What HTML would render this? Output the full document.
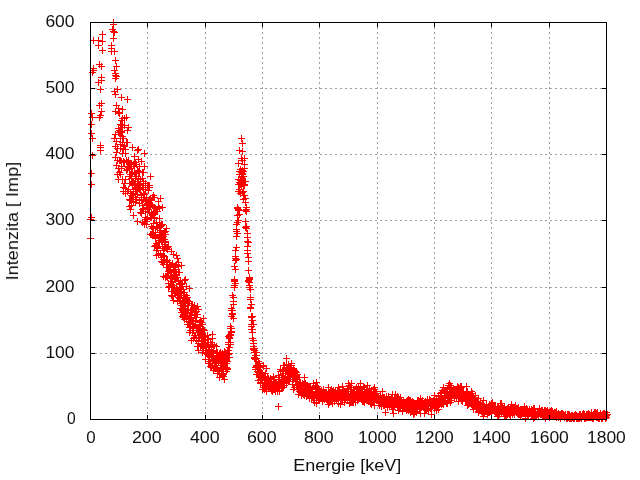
<!DOCTYPE html>
<html>
<head>
<meta charset="utf-8">
<title>Spektrum</title>
<style>
html,body{margin:0;padding:0;background:#fff;}
body{width:640px;height:480px;overflow:hidden;}
svg{display:block;}
text{font-family:"Liberation Sans",sans-serif;font-size:16.3px;fill:#111;}
</style>
</head>
<body>
<svg width="640" height="480" viewBox="0 0 640 480">
<rect x="0" y="0" width="640" height="480" fill="#fff"/>
<g stroke="#a0a0a0" stroke-width="1" stroke-dasharray="2 3" shape-rendering="crispEdges" fill="none">
<line x1="147.5" y1="419" x2="147.5" y2="22" />
<line x1="205.5" y1="419" x2="205.5" y2="22" />
<line x1="262.5" y1="419" x2="262.5" y2="22" />
<line x1="319.5" y1="419" x2="319.5" y2="22" />
<line x1="377.5" y1="419" x2="377.5" y2="22" />
<line x1="434.5" y1="419" x2="434.5" y2="22" />
<line x1="491.5" y1="419" x2="491.5" y2="22" />
<line x1="549.5" y1="419" x2="549.5" y2="22" />
<line x1="90" y1="353.5" x2="607" y2="353.5" />
<line x1="90" y1="287.5" x2="607" y2="287.5" />
<line x1="90" y1="220.5" x2="607" y2="220.5" />
<line x1="90" y1="154.5" x2="607" y2="154.5" />
<line x1="90" y1="88.5" x2="607" y2="88.5" />
</g>
<g style="opacity:0.999">
<text x="91.0" y="443" text-anchor="middle" textLength="9.4" lengthAdjust="spacingAndGlyphs">0</text>
<text x="146.8" y="443" text-anchor="middle" textLength="29.7" lengthAdjust="spacingAndGlyphs">200</text>
<text x="204.8" y="443" text-anchor="middle" textLength="29.7" lengthAdjust="spacingAndGlyphs">400</text>
<text x="261.8" y="443" text-anchor="middle" textLength="29.7" lengthAdjust="spacingAndGlyphs">600</text>
<text x="318.8" y="443" text-anchor="middle" textLength="29.7" lengthAdjust="spacingAndGlyphs">800</text>
<text x="377.4" y="443" text-anchor="middle" textLength="38.8" lengthAdjust="spacingAndGlyphs">1000</text>
<text x="434.4" y="443" text-anchor="middle" textLength="38.8" lengthAdjust="spacingAndGlyphs">1200</text>
<text x="491.4" y="443" text-anchor="middle" textLength="38.8" lengthAdjust="spacingAndGlyphs">1400</text>
<text x="549.4" y="443" text-anchor="middle" textLength="38.8" lengthAdjust="spacingAndGlyphs">1600</text>
<text x="606.4" y="443" text-anchor="middle" textLength="38.8" lengthAdjust="spacingAndGlyphs">1800</text>
<text x="75.6" y="423.9" text-anchor="end" textLength="8.7" lengthAdjust="spacingAndGlyphs">0</text>
<text x="74.5" y="357.9" text-anchor="end" textLength="29.1" lengthAdjust="spacingAndGlyphs">100</text>
<text x="74.5" y="291.9" text-anchor="end" textLength="29.1" lengthAdjust="spacingAndGlyphs">200</text>
<text x="74.5" y="224.9" text-anchor="end" textLength="29.1" lengthAdjust="spacingAndGlyphs">300</text>
<text x="74.5" y="158.9" text-anchor="end" textLength="29.1" lengthAdjust="spacingAndGlyphs">400</text>
<text x="74.5" y="92.9" text-anchor="end" textLength="29.1" lengthAdjust="spacingAndGlyphs">500</text>
<text x="74.5" y="26.9" text-anchor="end" textLength="29.1" lengthAdjust="spacingAndGlyphs">600</text>
<text x="347.2" y="471" text-anchor="middle" textLength="108" lengthAdjust="spacingAndGlyphs">Energie [keV]</text>
<text transform="translate(18,221.1) rotate(-90)" x="0" y="0" text-anchor="middle" textLength="118.5" lengthAdjust="spacingAndGlyphs">Intenzita [ Imp]</text>
</g>
<path d="M110 22.5h7m-3.5-3.5v7M110 24.5h7m-3.5-3.5v7M109 29.5h7m-3.5-3.5v7M111 32.5h7m-3.5-3.5v7M110 31.5h7m-3.5-3.5v7M110 38.5h7m-3.5-3.5v7M108 45.5h7m-3.5-3.5v7M108 48.5h7m-3.5-3.5v7M111 51.5h7m-3.5-3.5v7M108 51.5h7m-3.5-3.5v7M112 60.5h7m-3.5-3.5v7M113 66.5h7m-3.5-3.5v7M111 70.5h7m-3.5-3.5v7M112 73.5h7m-3.5-3.5v7M112 75.5h7m-3.5-3.5v7M113 76.5h7m-3.5-3.5v7M112 78.5h7m-3.5-3.5v7M114 89.5h7m-3.5-3.5v7M111 91.5h7m-3.5-3.5v7M112 94.5h7m-3.5-3.5v7M113 105.5h7m-3.5-3.5v7M115 108.5h7m-3.5-3.5v7M112 111.5h7m-3.5-3.5v7M115 112.5h7m-3.5-3.5v7M115 128.5h7m-3.5-3.5v7M115 132.5h7m-3.5-3.5v7M99 34.5h7m-3.5-3.5v7M90 40.5h7m-3.5-3.5v7M95 40.5h7m-3.5-3.5v7M99 41.5h7m-3.5-3.5v7M95 45.5h7m-3.5-3.5v7M99 50.5h7m-3.5-3.5v7M96 64.5h7m-3.5-3.5v7M98 66.5h7m-3.5-3.5v7M90 68.5h7m-3.5-3.5v7M90 70.5h7m-3.5-3.5v7M89 72.5h7m-3.5-3.5v7M98 77.5h7m-3.5-3.5v7M98 80.5h7m-3.5-3.5v7M95 82.5h7m-3.5-3.5v7M97 89.5h7m-3.5-3.5v7M98 103.5h7m-3.5-3.5v7M96 105.5h7m-3.5-3.5v7M98 111.5h7m-3.5-3.5v7M97 115.5h7m-3.5-3.5v7M96 117.5h7m-3.5-3.5v7M97 145.5h7m-3.5-3.5v7M97 147.5h7m-3.5-3.5v7M97 150.5h7m-3.5-3.5v7M112 134.5h7m-3.5-3.5v7M111 138.5h7m-3.5-3.5v7M113 141.5h7m-3.5-3.5v7M112 146.5h7m-3.5-3.5v7M114 148.5h7m-3.5-3.5v7M113 152.5h7m-3.5-3.5v7M112 157.5h7m-3.5-3.5v7M114 160.5h7m-3.5-3.5v7M113 165.5h7m-3.5-3.5v7M115 168.5h7m-3.5-3.5v7M114 174.5h7m-3.5-3.5v7M115 179.5h7m-3.5-3.5v7M117 124.5h7m-3.5-3.5v7M118 120.5h7m-3.5-3.5v7M119 118.5h7m-3.5-3.5v7M116 130.5h7m-3.5-3.5v7M116 132.5h7m-3.5-3.5v7M118 132.5h7m-3.5-3.5v7M124 99.5h7m-3.5-3.5v7M119 109.5h7m-3.5-3.5v7M123 117.5h7m-3.5-3.5v7M125 127.5h7m-3.5-3.5v7M124 130.5h7m-3.5-3.5v7M275 406.5h7m-3.5-3.5v7M238 138.5h7m-3.5-3.5v7M239 143.5h7m-3.5-3.5v7M236 150.5h7m-3.5-3.5v7M239 151.5h7m-3.5-3.5v7M238 158.5h7m-3.5-3.5v7M241 158.5h7m-3.5-3.5v7M235 163.5h7m-3.5-3.5v7M241 164.5h7m-3.5-3.5v7M239 160.5h7m-3.5-3.5v7M237 169.5h7m-3.5-3.5v7M88 113.5h7m-3.5-3.5v7M89 117.5h7m-3.5-3.5v7M88 124.5h7m-3.5-3.5v7M88 133.5h7m-3.5-3.5v7M89 138.5h7m-3.5-3.5v7M89 155.5h7m-3.5-3.5v7M88 173.5h7m-3.5-3.5v7M88 184.5h7m-3.5-3.5v7M88 217.5h7m-3.5-3.5v7M87 219.5h7m-3.5-3.5v7M87 238.5h7m-3.5-3.5v7M116 172.5h7m-3.5-3.5v7M116 113.5h7m-3.5-3.5v7M116 160.5h7m-3.5-3.5v7M117 148.5h7m-3.5-3.5v7M117 144.5h7m-3.5-3.5v7M117 160.5h7m-3.5-3.5v7M117 174.5h7m-3.5-3.5v7M117 131.5h7m-3.5-3.5v7M117 138.5h7m-3.5-3.5v7M118 168.5h7m-3.5-3.5v7M118 97.5h7m-3.5-3.5v7M118 127.5h7m-3.5-3.5v7M118 166.5h7m-3.5-3.5v7M118 131.5h7m-3.5-3.5v7M118 161.5h7m-3.5-3.5v7M119 153.5h7m-3.5-3.5v7M119 136.5h7m-3.5-3.5v7M119 179.5h7m-3.5-3.5v7M119 142.5h7m-3.5-3.5v7M119 125.5h7m-3.5-3.5v7M119 127.5h7m-3.5-3.5v7M120 162.5h7m-3.5-3.5v7M120 138.5h7m-3.5-3.5v7M120 191.5h7m-3.5-3.5v7M120 161.5h7m-3.5-3.5v7M120 149.5h7m-3.5-3.5v7M120 187.5h7m-3.5-3.5v7M121 162.5h7m-3.5-3.5v7M121 125.5h7m-3.5-3.5v7M121 118.5h7m-3.5-3.5v7M121 146.5h7m-3.5-3.5v7M121 145.5h7m-3.5-3.5v7M121 183.5h7m-3.5-3.5v7M122 188.5h7m-3.5-3.5v7M122 193.5h7m-3.5-3.5v7M122 153.5h7m-3.5-3.5v7M122 149.5h7m-3.5-3.5v7M122 179.5h7m-3.5-3.5v7M122 191.5h7m-3.5-3.5v7M123 161.5h7m-3.5-3.5v7M123 160.5h7m-3.5-3.5v7M123 170.5h7m-3.5-3.5v7M123 142.5h7m-3.5-3.5v7M123 170.5h7m-3.5-3.5v7M123 170.5h7m-3.5-3.5v7M124 191.5h7m-3.5-3.5v7M124 166.5h7m-3.5-3.5v7M124 142.5h7m-3.5-3.5v7M124 169.5h7m-3.5-3.5v7M124 169.5h7m-3.5-3.5v7M124 162.5h7m-3.5-3.5v7M125 166.5h7m-3.5-3.5v7M125 161.5h7m-3.5-3.5v7M125 161.5h7m-3.5-3.5v7M125 160.5h7m-3.5-3.5v7M125 189.5h7m-3.5-3.5v7M125 167.5h7m-3.5-3.5v7M126 206.5h7m-3.5-3.5v7M126 169.5h7m-3.5-3.5v7M126 199.5h7m-3.5-3.5v7M126 176.5h7m-3.5-3.5v7M126 166.5h7m-3.5-3.5v7M126 183.5h7m-3.5-3.5v7M127 174.5h7m-3.5-3.5v7M127 209.5h7m-3.5-3.5v7M127 193.5h7m-3.5-3.5v7M127 163.5h7m-3.5-3.5v7M127 200.5h7m-3.5-3.5v7M127 164.5h7m-3.5-3.5v7M128 205.5h7m-3.5-3.5v7M128 195.5h7m-3.5-3.5v7M128 199.5h7m-3.5-3.5v7M128 178.5h7m-3.5-3.5v7M128 168.5h7m-3.5-3.5v7M128 199.5h7m-3.5-3.5v7M129 182.5h7m-3.5-3.5v7M129 147.5h7m-3.5-3.5v7M129 185.5h7m-3.5-3.5v7M129 195.5h7m-3.5-3.5v7M129 172.5h7m-3.5-3.5v7M129 184.5h7m-3.5-3.5v7M130 193.5h7m-3.5-3.5v7M130 215.5h7m-3.5-3.5v7M130 164.5h7m-3.5-3.5v7M130 191.5h7m-3.5-3.5v7M130 181.5h7m-3.5-3.5v7M130 201.5h7m-3.5-3.5v7M131 156.5h7m-3.5-3.5v7M131 166.5h7m-3.5-3.5v7M131 162.5h7m-3.5-3.5v7M131 183.5h7m-3.5-3.5v7M131 173.5h7m-3.5-3.5v7M131 164.5h7m-3.5-3.5v7M132 162.5h7m-3.5-3.5v7M132 176.5h7m-3.5-3.5v7M132 183.5h7m-3.5-3.5v7M132 189.5h7m-3.5-3.5v7M132 197.5h7m-3.5-3.5v7M132 202.5h7m-3.5-3.5v7M133 176.5h7m-3.5-3.5v7M133 188.5h7m-3.5-3.5v7M133 199.5h7m-3.5-3.5v7M133 187.5h7m-3.5-3.5v7M133 164.5h7m-3.5-3.5v7M133 189.5h7m-3.5-3.5v7M134 221.5h7m-3.5-3.5v7M134 187.5h7m-3.5-3.5v7M134 170.5h7m-3.5-3.5v7M134 181.5h7m-3.5-3.5v7M134 194.5h7m-3.5-3.5v7M134 150.5h7m-3.5-3.5v7M135 149.5h7m-3.5-3.5v7M135 188.5h7m-3.5-3.5v7M135 171.5h7m-3.5-3.5v7M135 179.5h7m-3.5-3.5v7M135 172.5h7m-3.5-3.5v7M135 159.5h7m-3.5-3.5v7M136 172.5h7m-3.5-3.5v7M136 185.5h7m-3.5-3.5v7M136 200.5h7m-3.5-3.5v7M136 203.5h7m-3.5-3.5v7M136 189.5h7m-3.5-3.5v7M136 166.5h7m-3.5-3.5v7M137 183.5h7m-3.5-3.5v7M137 188.5h7m-3.5-3.5v7M137 184.5h7m-3.5-3.5v7M137 189.5h7m-3.5-3.5v7M137 179.5h7m-3.5-3.5v7M137 212.5h7m-3.5-3.5v7M138 195.5h7m-3.5-3.5v7M138 199.5h7m-3.5-3.5v7M138 213.5h7m-3.5-3.5v7M138 161.5h7m-3.5-3.5v7M138 195.5h7m-3.5-3.5v7M138 197.5h7m-3.5-3.5v7M139 222.5h7m-3.5-3.5v7M139 187.5h7m-3.5-3.5v7M139 205.5h7m-3.5-3.5v7M139 172.5h7m-3.5-3.5v7M139 178.5h7m-3.5-3.5v7M139 209.5h7m-3.5-3.5v7M140 187.5h7m-3.5-3.5v7M140 199.5h7m-3.5-3.5v7M140 208.5h7m-3.5-3.5v7M140 172.5h7m-3.5-3.5v7M140 181.5h7m-3.5-3.5v7M140 193.5h7m-3.5-3.5v7M141 197.5h7m-3.5-3.5v7M141 224.5h7m-3.5-3.5v7M141 223.5h7m-3.5-3.5v7M141 194.5h7m-3.5-3.5v7M141 166.5h7m-3.5-3.5v7M141 153.5h7m-3.5-3.5v7M142 187.5h7m-3.5-3.5v7M142 189.5h7m-3.5-3.5v7M142 183.5h7m-3.5-3.5v7M142 217.5h7m-3.5-3.5v7M142 211.5h7m-3.5-3.5v7M142 201.5h7m-3.5-3.5v7M143 221.5h7m-3.5-3.5v7M143 224.5h7m-3.5-3.5v7M143 219.5h7m-3.5-3.5v7M143 204.5h7m-3.5-3.5v7M143 197.5h7m-3.5-3.5v7M143 204.5h7m-3.5-3.5v7M144 203.5h7m-3.5-3.5v7M144 217.5h7m-3.5-3.5v7M144 218.5h7m-3.5-3.5v7M144 185.5h7m-3.5-3.5v7M144 207.5h7m-3.5-3.5v7M144 208.5h7m-3.5-3.5v7M145 190.5h7m-3.5-3.5v7M145 185.5h7m-3.5-3.5v7M145 185.5h7m-3.5-3.5v7M145 201.5h7m-3.5-3.5v7M145 209.5h7m-3.5-3.5v7M145 204.5h7m-3.5-3.5v7M146 206.5h7m-3.5-3.5v7M146 185.5h7m-3.5-3.5v7M146 205.5h7m-3.5-3.5v7M146 199.5h7m-3.5-3.5v7M146 212.5h7m-3.5-3.5v7M146 187.5h7m-3.5-3.5v7M147 217.5h7m-3.5-3.5v7M147 206.5h7m-3.5-3.5v7M147 199.5h7m-3.5-3.5v7M147 234.5h7m-3.5-3.5v7M147 176.5h7m-3.5-3.5v7M147 217.5h7m-3.5-3.5v7M148 217.5h7m-3.5-3.5v7M148 234.5h7m-3.5-3.5v7M148 200.5h7m-3.5-3.5v7M148 212.5h7m-3.5-3.5v7M148 226.5h7m-3.5-3.5v7M148 213.5h7m-3.5-3.5v7M149 205.5h7m-3.5-3.5v7M149 197.5h7m-3.5-3.5v7M149 215.5h7m-3.5-3.5v7M149 235.5h7m-3.5-3.5v7M149 228.5h7m-3.5-3.5v7M149 233.5h7m-3.5-3.5v7M150 232.5h7m-3.5-3.5v7M150 207.5h7m-3.5-3.5v7M150 213.5h7m-3.5-3.5v7M150 223.5h7m-3.5-3.5v7M150 227.5h7m-3.5-3.5v7M150 195.5h7m-3.5-3.5v7M151 218.5h7m-3.5-3.5v7M151 207.5h7m-3.5-3.5v7M151 217.5h7m-3.5-3.5v7M151 235.5h7m-3.5-3.5v7M151 197.5h7m-3.5-3.5v7M151 246.5h7m-3.5-3.5v7M152 245.5h7m-3.5-3.5v7M152 232.5h7m-3.5-3.5v7M152 238.5h7m-3.5-3.5v7M152 236.5h7m-3.5-3.5v7M152 237.5h7m-3.5-3.5v7M152 211.5h7m-3.5-3.5v7M153 226.5h7m-3.5-3.5v7M153 222.5h7m-3.5-3.5v7M153 255.5h7m-3.5-3.5v7M153 243.5h7m-3.5-3.5v7M153 211.5h7m-3.5-3.5v7M153 250.5h7m-3.5-3.5v7M154 211.5h7m-3.5-3.5v7M154 248.5h7m-3.5-3.5v7M154 226.5h7m-3.5-3.5v7M154 246.5h7m-3.5-3.5v7M154 228.5h7m-3.5-3.5v7M154 247.5h7m-3.5-3.5v7M155 237.5h7m-3.5-3.5v7M155 206.5h7m-3.5-3.5v7M155 240.5h7m-3.5-3.5v7M155 201.5h7m-3.5-3.5v7M155 242.5h7m-3.5-3.5v7M155 254.5h7m-3.5-3.5v7M156 234.5h7m-3.5-3.5v7M156 242.5h7m-3.5-3.5v7M156 208.5h7m-3.5-3.5v7M156 222.5h7m-3.5-3.5v7M156 218.5h7m-3.5-3.5v7M156 227.5h7m-3.5-3.5v7M157 198.5h7m-3.5-3.5v7M157 226.5h7m-3.5-3.5v7M157 230.5h7m-3.5-3.5v7M157 253.5h7m-3.5-3.5v7M157 254.5h7m-3.5-3.5v7M157 238.5h7m-3.5-3.5v7M158 225.5h7m-3.5-3.5v7M158 224.5h7m-3.5-3.5v7M158 257.5h7m-3.5-3.5v7M158 234.5h7m-3.5-3.5v7M158 240.5h7m-3.5-3.5v7M158 261.5h7m-3.5-3.5v7M159 236.5h7m-3.5-3.5v7M159 224.5h7m-3.5-3.5v7M159 240.5h7m-3.5-3.5v7M159 207.5h7m-3.5-3.5v7M159 262.5h7m-3.5-3.5v7M159 246.5h7m-3.5-3.5v7M160 276.5h7m-3.5-3.5v7M160 259.5h7m-3.5-3.5v7M160 236.5h7m-3.5-3.5v7M160 264.5h7m-3.5-3.5v7M160 250.5h7m-3.5-3.5v7M160 255.5h7m-3.5-3.5v7M161 256.5h7m-3.5-3.5v7M161 248.5h7m-3.5-3.5v7M161 244.5h7m-3.5-3.5v7M161 232.5h7m-3.5-3.5v7M161 239.5h7m-3.5-3.5v7M161 261.5h7m-3.5-3.5v7M162 231.5h7m-3.5-3.5v7M162 234.5h7m-3.5-3.5v7M162 277.5h7m-3.5-3.5v7M162 244.5h7m-3.5-3.5v7M162 242.5h7m-3.5-3.5v7M162 241.5h7m-3.5-3.5v7M163 248.5h7m-3.5-3.5v7M163 276.5h7m-3.5-3.5v7M163 261.5h7m-3.5-3.5v7M163 267.5h7m-3.5-3.5v7M163 260.5h7m-3.5-3.5v7M163 228.5h7m-3.5-3.5v7M164 249.5h7m-3.5-3.5v7M164 247.5h7m-3.5-3.5v7M164 267.5h7m-3.5-3.5v7M164 275.5h7m-3.5-3.5v7M164 277.5h7m-3.5-3.5v7M164 260.5h7m-3.5-3.5v7M165 273.5h7m-3.5-3.5v7M165 271.5h7m-3.5-3.5v7M165 246.5h7m-3.5-3.5v7M165 287.5h7m-3.5-3.5v7M165 283.5h7m-3.5-3.5v7M165 271.5h7m-3.5-3.5v7M166 266.5h7m-3.5-3.5v7M166 267.5h7m-3.5-3.5v7M166 286.5h7m-3.5-3.5v7M166 264.5h7m-3.5-3.5v7M166 269.5h7m-3.5-3.5v7M166 262.5h7m-3.5-3.5v7M167 283.5h7m-3.5-3.5v7M167 265.5h7m-3.5-3.5v7M167 265.5h7m-3.5-3.5v7M167 278.5h7m-3.5-3.5v7M167 272.5h7m-3.5-3.5v7M167 277.5h7m-3.5-3.5v7M168 251.5h7m-3.5-3.5v7M168 285.5h7m-3.5-3.5v7M168 291.5h7m-3.5-3.5v7M168 295.5h7m-3.5-3.5v7M168 277.5h7m-3.5-3.5v7M168 281.5h7m-3.5-3.5v7M169 278.5h7m-3.5-3.5v7M169 263.5h7m-3.5-3.5v7M169 296.5h7m-3.5-3.5v7M169 285.5h7m-3.5-3.5v7M169 277.5h7m-3.5-3.5v7M169 291.5h7m-3.5-3.5v7M170 269.5h7m-3.5-3.5v7M170 271.5h7m-3.5-3.5v7M170 285.5h7m-3.5-3.5v7M170 300.5h7m-3.5-3.5v7M170 254.5h7m-3.5-3.5v7M170 270.5h7m-3.5-3.5v7M171 271.5h7m-3.5-3.5v7M171 276.5h7m-3.5-3.5v7M171 278.5h7m-3.5-3.5v7M171 267.5h7m-3.5-3.5v7M171 279.5h7m-3.5-3.5v7M171 287.5h7m-3.5-3.5v7M172 269.5h7m-3.5-3.5v7M172 279.5h7m-3.5-3.5v7M172 290.5h7m-3.5-3.5v7M172 293.5h7m-3.5-3.5v7M172 265.5h7m-3.5-3.5v7M172 272.5h7m-3.5-3.5v7M173 255.5h7m-3.5-3.5v7M173 289.5h7m-3.5-3.5v7M173 292.5h7m-3.5-3.5v7M173 277.5h7m-3.5-3.5v7M173 264.5h7m-3.5-3.5v7M173 275.5h7m-3.5-3.5v7M174 277.5h7m-3.5-3.5v7M174 258.5h7m-3.5-3.5v7M174 294.5h7m-3.5-3.5v7M174 301.5h7m-3.5-3.5v7M174 295.5h7m-3.5-3.5v7M174 289.5h7m-3.5-3.5v7M175 280.5h7m-3.5-3.5v7M175 272.5h7m-3.5-3.5v7M175 281.5h7m-3.5-3.5v7M175 266.5h7m-3.5-3.5v7M175 297.5h7m-3.5-3.5v7M175 262.5h7m-3.5-3.5v7M176 298.5h7m-3.5-3.5v7M176 272.5h7m-3.5-3.5v7M176 300.5h7m-3.5-3.5v7M176 284.5h7m-3.5-3.5v7M176 288.5h7m-3.5-3.5v7M176 283.5h7m-3.5-3.5v7M177 280.5h7m-3.5-3.5v7M177 293.5h7m-3.5-3.5v7M177 291.5h7m-3.5-3.5v7M177 287.5h7m-3.5-3.5v7M177 308.5h7m-3.5-3.5v7M177 301.5h7m-3.5-3.5v7M178 312.5h7m-3.5-3.5v7M178 293.5h7m-3.5-3.5v7M178 265.5h7m-3.5-3.5v7M178 284.5h7m-3.5-3.5v7M178 305.5h7m-3.5-3.5v7M178 303.5h7m-3.5-3.5v7M179 283.5h7m-3.5-3.5v7M179 301.5h7m-3.5-3.5v7M179 316.5h7m-3.5-3.5v7M179 309.5h7m-3.5-3.5v7M179 310.5h7m-3.5-3.5v7M179 310.5h7m-3.5-3.5v7M180 289.5h7m-3.5-3.5v7M180 297.5h7m-3.5-3.5v7M180 317.5h7m-3.5-3.5v7M180 306.5h7m-3.5-3.5v7M180 314.5h7m-3.5-3.5v7M180 315.5h7m-3.5-3.5v7M181 319.5h7m-3.5-3.5v7M181 280.5h7m-3.5-3.5v7M181 305.5h7m-3.5-3.5v7M181 295.5h7m-3.5-3.5v7M181 292.5h7m-3.5-3.5v7M181 308.5h7m-3.5-3.5v7M182 297.5h7m-3.5-3.5v7M182 298.5h7m-3.5-3.5v7M182 302.5h7m-3.5-3.5v7M182 279.5h7m-3.5-3.5v7M182 302.5h7m-3.5-3.5v7M182 309.5h7m-3.5-3.5v7M183 299.5h7m-3.5-3.5v7M183 286.5h7m-3.5-3.5v7M183 295.5h7m-3.5-3.5v7M183 313.5h7m-3.5-3.5v7M183 318.5h7m-3.5-3.5v7M183 319.5h7m-3.5-3.5v7M184 316.5h7m-3.5-3.5v7M184 305.5h7m-3.5-3.5v7M184 300.5h7m-3.5-3.5v7M184 297.5h7m-3.5-3.5v7M184 310.5h7m-3.5-3.5v7M184 324.5h7m-3.5-3.5v7M185 303.5h7m-3.5-3.5v7M185 301.5h7m-3.5-3.5v7M185 321.5h7m-3.5-3.5v7M185 318.5h7m-3.5-3.5v7M185 324.5h7m-3.5-3.5v7M185 309.5h7m-3.5-3.5v7M186 332.5h7m-3.5-3.5v7M186 327.5h7m-3.5-3.5v7M186 322.5h7m-3.5-3.5v7M186 301.5h7m-3.5-3.5v7M186 288.5h7m-3.5-3.5v7M186 315.5h7m-3.5-3.5v7M187 330.5h7m-3.5-3.5v7M187 315.5h7m-3.5-3.5v7M187 326.5h7m-3.5-3.5v7M187 312.5h7m-3.5-3.5v7M187 330.5h7m-3.5-3.5v7M187 322.5h7m-3.5-3.5v7M188 318.5h7m-3.5-3.5v7M188 312.5h7m-3.5-3.5v7M188 320.5h7m-3.5-3.5v7M188 305.5h7m-3.5-3.5v7M188 318.5h7m-3.5-3.5v7M188 340.5h7m-3.5-3.5v7M189 310.5h7m-3.5-3.5v7M189 323.5h7m-3.5-3.5v7M189 328.5h7m-3.5-3.5v7M189 305.5h7m-3.5-3.5v7M189 332.5h7m-3.5-3.5v7M189 320.5h7m-3.5-3.5v7M190 330.5h7m-3.5-3.5v7M190 307.5h7m-3.5-3.5v7M190 326.5h7m-3.5-3.5v7M190 320.5h7m-3.5-3.5v7M190 338.5h7m-3.5-3.5v7M190 308.5h7m-3.5-3.5v7M191 335.5h7m-3.5-3.5v7M191 314.5h7m-3.5-3.5v7M191 312.5h7m-3.5-3.5v7M191 311.5h7m-3.5-3.5v7M191 305.5h7m-3.5-3.5v7M191 337.5h7m-3.5-3.5v7M192 321.5h7m-3.5-3.5v7M192 324.5h7m-3.5-3.5v7M192 321.5h7m-3.5-3.5v7M192 314.5h7m-3.5-3.5v7M192 325.5h7m-3.5-3.5v7M192 335.5h7m-3.5-3.5v7M193 328.5h7m-3.5-3.5v7M193 311.5h7m-3.5-3.5v7M193 340.5h7m-3.5-3.5v7M193 327.5h7m-3.5-3.5v7M193 338.5h7m-3.5-3.5v7M193 317.5h7m-3.5-3.5v7M194 346.5h7m-3.5-3.5v7M194 332.5h7m-3.5-3.5v7M194 330.5h7m-3.5-3.5v7M194 328.5h7m-3.5-3.5v7M194 306.5h7m-3.5-3.5v7M194 314.5h7m-3.5-3.5v7M195 341.5h7m-3.5-3.5v7M195 309.5h7m-3.5-3.5v7M195 343.5h7m-3.5-3.5v7M195 350.5h7m-3.5-3.5v7M195 346.5h7m-3.5-3.5v7M195 330.5h7m-3.5-3.5v7M196 326.5h7m-3.5-3.5v7M196 322.5h7m-3.5-3.5v7M196 328.5h7m-3.5-3.5v7M196 335.5h7m-3.5-3.5v7M196 326.5h7m-3.5-3.5v7M196 337.5h7m-3.5-3.5v7M197 324.5h7m-3.5-3.5v7M197 328.5h7m-3.5-3.5v7M197 346.5h7m-3.5-3.5v7M197 320.5h7m-3.5-3.5v7M197 332.5h7m-3.5-3.5v7M197 328.5h7m-3.5-3.5v7M198 322.5h7m-3.5-3.5v7M198 345.5h7m-3.5-3.5v7M198 336.5h7m-3.5-3.5v7M198 344.5h7m-3.5-3.5v7M198 345.5h7m-3.5-3.5v7M198 334.5h7m-3.5-3.5v7M199 333.5h7m-3.5-3.5v7M199 324.5h7m-3.5-3.5v7M199 324.5h7m-3.5-3.5v7M199 338.5h7m-3.5-3.5v7M199 346.5h7m-3.5-3.5v7M199 352.5h7m-3.5-3.5v7M200 318.5h7m-3.5-3.5v7M200 340.5h7m-3.5-3.5v7M200 348.5h7m-3.5-3.5v7M200 343.5h7m-3.5-3.5v7M200 336.5h7m-3.5-3.5v7M200 329.5h7m-3.5-3.5v7M201 330.5h7m-3.5-3.5v7M201 336.5h7m-3.5-3.5v7M201 343.5h7m-3.5-3.5v7M201 339.5h7m-3.5-3.5v7M201 344.5h7m-3.5-3.5v7M201 340.5h7m-3.5-3.5v7M202 342.5h7m-3.5-3.5v7M202 337.5h7m-3.5-3.5v7M202 359.5h7m-3.5-3.5v7M202 346.5h7m-3.5-3.5v7M202 346.5h7m-3.5-3.5v7M202 353.5h7m-3.5-3.5v7M203 345.5h7m-3.5-3.5v7M203 353.5h7m-3.5-3.5v7M203 350.5h7m-3.5-3.5v7M203 347.5h7m-3.5-3.5v7M203 347.5h7m-3.5-3.5v7M203 350.5h7m-3.5-3.5v7M204 335.5h7m-3.5-3.5v7M204 344.5h7m-3.5-3.5v7M204 342.5h7m-3.5-3.5v7M204 344.5h7m-3.5-3.5v7M204 352.5h7m-3.5-3.5v7M204 354.5h7m-3.5-3.5v7M205 339.5h7m-3.5-3.5v7M205 350.5h7m-3.5-3.5v7M205 363.5h7m-3.5-3.5v7M205 359.5h7m-3.5-3.5v7M205 346.5h7m-3.5-3.5v7M205 355.5h7m-3.5-3.5v7M206 349.5h7m-3.5-3.5v7M206 353.5h7m-3.5-3.5v7M206 353.5h7m-3.5-3.5v7M206 351.5h7m-3.5-3.5v7M206 361.5h7m-3.5-3.5v7M206 350.5h7m-3.5-3.5v7M207 342.5h7m-3.5-3.5v7M207 344.5h7m-3.5-3.5v7M207 366.5h7m-3.5-3.5v7M207 363.5h7m-3.5-3.5v7M207 363.5h7m-3.5-3.5v7M207 353.5h7m-3.5-3.5v7M208 344.5h7m-3.5-3.5v7M208 350.5h7m-3.5-3.5v7M208 367.5h7m-3.5-3.5v7M208 352.5h7m-3.5-3.5v7M208 346.5h7m-3.5-3.5v7M208 357.5h7m-3.5-3.5v7M209 338.5h7m-3.5-3.5v7M209 359.5h7m-3.5-3.5v7M209 344.5h7m-3.5-3.5v7M209 334.5h7m-3.5-3.5v7M209 365.5h7m-3.5-3.5v7M209 357.5h7m-3.5-3.5v7M210 350.5h7m-3.5-3.5v7M210 355.5h7m-3.5-3.5v7M210 370.5h7m-3.5-3.5v7M210 351.5h7m-3.5-3.5v7M210 353.5h7m-3.5-3.5v7M210 359.5h7m-3.5-3.5v7M211 363.5h7m-3.5-3.5v7M211 361.5h7m-3.5-3.5v7M211 359.5h7m-3.5-3.5v7M211 367.5h7m-3.5-3.5v7M211 345.5h7m-3.5-3.5v7M211 367.5h7m-3.5-3.5v7M212 361.5h7m-3.5-3.5v7M212 363.5h7m-3.5-3.5v7M212 362.5h7m-3.5-3.5v7M212 358.5h7m-3.5-3.5v7M212 365.5h7m-3.5-3.5v7M212 361.5h7m-3.5-3.5v7M213 346.5h7m-3.5-3.5v7M213 352.5h7m-3.5-3.5v7M213 362.5h7m-3.5-3.5v7M213 353.5h7m-3.5-3.5v7M213 367.5h7m-3.5-3.5v7M213 359.5h7m-3.5-3.5v7M214 373.5h7m-3.5-3.5v7M214 371.5h7m-3.5-3.5v7M214 369.5h7m-3.5-3.5v7M214 352.5h7m-3.5-3.5v7M214 360.5h7m-3.5-3.5v7M214 358.5h7m-3.5-3.5v7M215 361.5h7m-3.5-3.5v7M215 360.5h7m-3.5-3.5v7M215 359.5h7m-3.5-3.5v7M215 357.5h7m-3.5-3.5v7M215 362.5h7m-3.5-3.5v7M215 371.5h7m-3.5-3.5v7M216 370.5h7m-3.5-3.5v7M216 355.5h7m-3.5-3.5v7M216 353.5h7m-3.5-3.5v7M216 360.5h7m-3.5-3.5v7M216 377.5h7m-3.5-3.5v7M216 353.5h7m-3.5-3.5v7M217 362.5h7m-3.5-3.5v7M217 365.5h7m-3.5-3.5v7M217 365.5h7m-3.5-3.5v7M217 367.5h7m-3.5-3.5v7M217 352.5h7m-3.5-3.5v7M217 352.5h7m-3.5-3.5v7M218 373.5h7m-3.5-3.5v7M218 367.5h7m-3.5-3.5v7M218 363.5h7m-3.5-3.5v7M218 355.5h7m-3.5-3.5v7M218 373.5h7m-3.5-3.5v7M218 358.5h7m-3.5-3.5v7M219 353.5h7m-3.5-3.5v7M219 368.5h7m-3.5-3.5v7M219 365.5h7m-3.5-3.5v7M219 356.5h7m-3.5-3.5v7M219 363.5h7m-3.5-3.5v7M219 375.5h7m-3.5-3.5v7M220 374.5h7m-3.5-3.5v7M220 373.5h7m-3.5-3.5v7M220 376.5h7m-3.5-3.5v7M220 365.5h7m-3.5-3.5v7M220 369.5h7m-3.5-3.5v7M220 364.5h7m-3.5-3.5v7M221 359.5h7m-3.5-3.5v7M221 351.5h7m-3.5-3.5v7M221 363.5h7m-3.5-3.5v7M221 379.5h7m-3.5-3.5v7M221 353.5h7m-3.5-3.5v7M221 365.5h7m-3.5-3.5v7M222 354.5h7m-3.5-3.5v7M222 367.5h7m-3.5-3.5v7M222 361.5h7m-3.5-3.5v7M222 363.5h7m-3.5-3.5v7M222 363.5h7m-3.5-3.5v7M222 352.5h7m-3.5-3.5v7M223 367.5h7m-3.5-3.5v7M223 360.5h7m-3.5-3.5v7M223 359.5h7m-3.5-3.5v7M223 363.5h7m-3.5-3.5v7M223 371.5h7m-3.5-3.5v7M223 357.5h7m-3.5-3.5v7M224 368.5h7m-3.5-3.5v7M224 369.5h7m-3.5-3.5v7M224 361.5h7m-3.5-3.5v7M224 354.5h7m-3.5-3.5v7M224 350.5h7m-3.5-3.5v7M224 350.5h7m-3.5-3.5v7M225 350.5h7m-3.5-3.5v7M225 357.5h7m-3.5-3.5v7M225 344.5h7m-3.5-3.5v7M225 354.5h7m-3.5-3.5v7M225 342.5h7m-3.5-3.5v7M225 336.5h7m-3.5-3.5v7M226 357.5h7m-3.5-3.5v7M226 353.5h7m-3.5-3.5v7M226 347.5h7m-3.5-3.5v7M226 337.5h7m-3.5-3.5v7M226 338.5h7m-3.5-3.5v7M226 335.5h7m-3.5-3.5v7M227 335.5h7m-3.5-3.5v7M227 344.5h7m-3.5-3.5v7M227 326.5h7m-3.5-3.5v7M227 342.5h7m-3.5-3.5v7M227 328.5h7m-3.5-3.5v7M227 334.5h7m-3.5-3.5v7M228 332.5h7m-3.5-3.5v7M228 331.5h7m-3.5-3.5v7M228 328.5h7m-3.5-3.5v7M228 316.5h7m-3.5-3.5v7M228 310.5h7m-3.5-3.5v7M228 308.5h7m-3.5-3.5v7M229 310.5h7m-3.5-3.5v7M229 310.5h7m-3.5-3.5v7M229 310.5h7m-3.5-3.5v7M229 295.5h7m-3.5-3.5v7M229 314.5h7m-3.5-3.5v7M229 313.5h7m-3.5-3.5v7M230 304.5h7m-3.5-3.5v7M230 318.5h7m-3.5-3.5v7M230 301.5h7m-3.5-3.5v7M230 297.5h7m-3.5-3.5v7M230 304.5h7m-3.5-3.5v7M230 297.5h7m-3.5-3.5v7M231 279.5h7m-3.5-3.5v7M231 287.5h7m-3.5-3.5v7M231 280.5h7m-3.5-3.5v7M231 266.5h7m-3.5-3.5v7M231 281.5h7m-3.5-3.5v7M231 285.5h7m-3.5-3.5v7M232 269.5h7m-3.5-3.5v7M232 260.5h7m-3.5-3.5v7M232 283.5h7m-3.5-3.5v7M232 250.5h7m-3.5-3.5v7M232 258.5h7m-3.5-3.5v7M232 256.5h7m-3.5-3.5v7M233 259.5h7m-3.5-3.5v7M233 247.5h7m-3.5-3.5v7M233 229.5h7m-3.5-3.5v7M233 231.5h7m-3.5-3.5v7M233 224.5h7m-3.5-3.5v7M233 236.5h7m-3.5-3.5v7M234 207.5h7m-3.5-3.5v7M234 208.5h7m-3.5-3.5v7M234 222.5h7m-3.5-3.5v7M234 233.5h7m-3.5-3.5v7M234 215.5h7m-3.5-3.5v7M234 215.5h7m-3.5-3.5v7M235 210.5h7m-3.5-3.5v7M235 220.5h7m-3.5-3.5v7M235 179.5h7m-3.5-3.5v7M235 209.5h7m-3.5-3.5v7M235 191.5h7m-3.5-3.5v7M235 184.5h7m-3.5-3.5v7M236 214.5h7m-3.5-3.5v7M236 189.5h7m-3.5-3.5v7M236 171.5h7m-3.5-3.5v7M236 191.5h7m-3.5-3.5v7M236 174.5h7m-3.5-3.5v7M236 182.5h7m-3.5-3.5v7M237 179.5h7m-3.5-3.5v7M237 184.5h7m-3.5-3.5v7M237 193.5h7m-3.5-3.5v7M237 180.5h7m-3.5-3.5v7M237 169.5h7m-3.5-3.5v7M237 183.5h7m-3.5-3.5v7M238 185.5h7m-3.5-3.5v7M238 177.5h7m-3.5-3.5v7M238 176.5h7m-3.5-3.5v7M238 181.5h7m-3.5-3.5v7M238 172.5h7m-3.5-3.5v7M238 182.5h7m-3.5-3.5v7M239 181.5h7m-3.5-3.5v7M239 183.5h7m-3.5-3.5v7M239 173.5h7m-3.5-3.5v7M239 192.5h7m-3.5-3.5v7M239 174.5h7m-3.5-3.5v7M239 170.5h7m-3.5-3.5v7M240 185.5h7m-3.5-3.5v7M240 199.5h7m-3.5-3.5v7M240 184.5h7m-3.5-3.5v7M240 191.5h7m-3.5-3.5v7M240 176.5h7m-3.5-3.5v7M240 171.5h7m-3.5-3.5v7M241 168.5h7m-3.5-3.5v7M241 195.5h7m-3.5-3.5v7M241 195.5h7m-3.5-3.5v7M241 185.5h7m-3.5-3.5v7M241 184.5h7m-3.5-3.5v7M241 181.5h7m-3.5-3.5v7M242 198.5h7m-3.5-3.5v7M242 210.5h7m-3.5-3.5v7M242 221.5h7m-3.5-3.5v7M242 181.5h7m-3.5-3.5v7M242 227.5h7m-3.5-3.5v7M242 202.5h7m-3.5-3.5v7M243 211.5h7m-3.5-3.5v7M243 207.5h7m-3.5-3.5v7M243 209.5h7m-3.5-3.5v7M243 207.5h7m-3.5-3.5v7M243 228.5h7m-3.5-3.5v7M243 226.5h7m-3.5-3.5v7M244 241.5h7m-3.5-3.5v7M244 237.5h7m-3.5-3.5v7M244 253.5h7m-3.5-3.5v7M244 246.5h7m-3.5-3.5v7M244 233.5h7m-3.5-3.5v7M244 250.5h7m-3.5-3.5v7M245 242.5h7m-3.5-3.5v7M245 261.5h7m-3.5-3.5v7M245 257.5h7m-3.5-3.5v7M245 270.5h7m-3.5-3.5v7M245 281.5h7m-3.5-3.5v7M245 280.5h7m-3.5-3.5v7M246 279.5h7m-3.5-3.5v7M246 277.5h7m-3.5-3.5v7M246 282.5h7m-3.5-3.5v7M246 287.5h7m-3.5-3.5v7M246 278.5h7m-3.5-3.5v7M246 285.5h7m-3.5-3.5v7M247 299.5h7m-3.5-3.5v7M247 289.5h7m-3.5-3.5v7M247 289.5h7m-3.5-3.5v7M247 307.5h7m-3.5-3.5v7M247 308.5h7m-3.5-3.5v7M247 297.5h7m-3.5-3.5v7M248 317.5h7m-3.5-3.5v7M248 329.5h7m-3.5-3.5v7M248 316.5h7m-3.5-3.5v7M248 304.5h7m-3.5-3.5v7M248 324.5h7m-3.5-3.5v7M248 326.5h7m-3.5-3.5v7M249 329.5h7m-3.5-3.5v7M249 329.5h7m-3.5-3.5v7M249 320.5h7m-3.5-3.5v7M249 316.5h7m-3.5-3.5v7M249 332.5h7m-3.5-3.5v7M249 338.5h7m-3.5-3.5v7M250 324.5h7m-3.5-3.5v7M250 340.5h7m-3.5-3.5v7M250 343.5h7m-3.5-3.5v7M250 348.5h7m-3.5-3.5v7M250 349.5h7m-3.5-3.5v7M250 346.5h7m-3.5-3.5v7M251 352.5h7m-3.5-3.5v7M251 348.5h7m-3.5-3.5v7M251 352.5h7m-3.5-3.5v7M251 350.5h7m-3.5-3.5v7M251 358.5h7m-3.5-3.5v7M251 357.5h7m-3.5-3.5v7M252 355.5h7m-3.5-3.5v7M252 358.5h7m-3.5-3.5v7M252 359.5h7m-3.5-3.5v7M252 352.5h7m-3.5-3.5v7M252 369.5h7m-3.5-3.5v7M252 367.5h7m-3.5-3.5v7M253 358.5h7m-3.5-3.5v7M253 365.5h7m-3.5-3.5v7M253 355.5h7m-3.5-3.5v7M253 366.5h7m-3.5-3.5v7M253 374.5h7m-3.5-3.5v7M253 352.5h7m-3.5-3.5v7M254 365.5h7m-3.5-3.5v7M254 371.5h7m-3.5-3.5v7M254 374.5h7m-3.5-3.5v7M254 365.5h7m-3.5-3.5v7M254 374.5h7m-3.5-3.5v7M254 367.5h7m-3.5-3.5v7M255 363.5h7m-3.5-3.5v7M255 380.5h7m-3.5-3.5v7M255 374.5h7m-3.5-3.5v7M255 369.5h7m-3.5-3.5v7M255 361.5h7m-3.5-3.5v7M255 366.5h7m-3.5-3.5v7M256 376.5h7m-3.5-3.5v7M256 363.5h7m-3.5-3.5v7M256 376.5h7m-3.5-3.5v7M256 375.5h7m-3.5-3.5v7M256 371.5h7m-3.5-3.5v7M257 382.5h7m-3.5-3.5v7M257 366.5h7m-3.5-3.5v7M257 367.5h7m-3.5-3.5v7M257 374.5h7m-3.5-3.5v7M257 379.5h7m-3.5-3.5v7M257 383.5h7m-3.5-3.5v7M258 373.5h7m-3.5-3.5v7M258 372.5h7m-3.5-3.5v7M258 379.5h7m-3.5-3.5v7M258 378.5h7m-3.5-3.5v7M258 373.5h7m-3.5-3.5v7M259 377.5h7m-3.5-3.5v7M259 389.5h7m-3.5-3.5v7M259 373.5h7m-3.5-3.5v7M259 377.5h7m-3.5-3.5v7M259 373.5h7m-3.5-3.5v7M259 383.5h7m-3.5-3.5v7M260 385.5h7m-3.5-3.5v7M260 387.5h7m-3.5-3.5v7M260 377.5h7m-3.5-3.5v7M260 366.5h7m-3.5-3.5v7M260 365.5h7m-3.5-3.5v7M261 378.5h7m-3.5-3.5v7M261 389.5h7m-3.5-3.5v7M261 382.5h7m-3.5-3.5v7M261 377.5h7m-3.5-3.5v7M261 378.5h7m-3.5-3.5v7M262 380.5h7m-3.5-3.5v7M262 373.5h7m-3.5-3.5v7M262 387.5h7m-3.5-3.5v7M262 387.5h7m-3.5-3.5v7M262 387.5h7m-3.5-3.5v7M263 389.5h7m-3.5-3.5v7M263 368.5h7m-3.5-3.5v7M263 383.5h7m-3.5-3.5v7M263 391.5h7m-3.5-3.5v7M263 379.5h7m-3.5-3.5v7M264 377.5h7m-3.5-3.5v7M264 383.5h7m-3.5-3.5v7M264 382.5h7m-3.5-3.5v7M264 377.5h7m-3.5-3.5v7M264 380.5h7m-3.5-3.5v7M265 387.5h7m-3.5-3.5v7M265 380.5h7m-3.5-3.5v7M265 378.5h7m-3.5-3.5v7M265 382.5h7m-3.5-3.5v7M265 379.5h7m-3.5-3.5v7M266 381.5h7m-3.5-3.5v7M266 386.5h7m-3.5-3.5v7M266 385.5h7m-3.5-3.5v7M266 381.5h7m-3.5-3.5v7M267 388.5h7m-3.5-3.5v7M267 379.5h7m-3.5-3.5v7M267 378.5h7m-3.5-3.5v7M267 384.5h7m-3.5-3.5v7M267 386.5h7m-3.5-3.5v7M268 390.5h7m-3.5-3.5v7M268 389.5h7m-3.5-3.5v7M268 385.5h7m-3.5-3.5v7M268 387.5h7m-3.5-3.5v7M268 383.5h7m-3.5-3.5v7M269 384.5h7m-3.5-3.5v7M269 384.5h7m-3.5-3.5v7M269 391.5h7m-3.5-3.5v7M269 388.5h7m-3.5-3.5v7M270 377.5h7m-3.5-3.5v7M270 388.5h7m-3.5-3.5v7M270 376.5h7m-3.5-3.5v7M270 389.5h7m-3.5-3.5v7M270 379.5h7m-3.5-3.5v7M271 381.5h7m-3.5-3.5v7M271 389.5h7m-3.5-3.5v7M271 381.5h7m-3.5-3.5v7M271 385.5h7m-3.5-3.5v7M271 381.5h7m-3.5-3.5v7M272 391.5h7m-3.5-3.5v7M272 389.5h7m-3.5-3.5v7M272 390.5h7m-3.5-3.5v7M272 383.5h7m-3.5-3.5v7M273 383.5h7m-3.5-3.5v7M273 387.5h7m-3.5-3.5v7M273 387.5h7m-3.5-3.5v7M273 387.5h7m-3.5-3.5v7M273 385.5h7m-3.5-3.5v7M274 391.5h7m-3.5-3.5v7M274 385.5h7m-3.5-3.5v7M274 386.5h7m-3.5-3.5v7M274 388.5h7m-3.5-3.5v7M274 388.5h7m-3.5-3.5v7M275 375.5h7m-3.5-3.5v7M275 388.5h7m-3.5-3.5v7M275 381.5h7m-3.5-3.5v7M275 375.5h7m-3.5-3.5v7M275 379.5h7m-3.5-3.5v7M276 383.5h7m-3.5-3.5v7M276 377.5h7m-3.5-3.5v7M276 391.5h7m-3.5-3.5v7M276 390.5h7m-3.5-3.5v7M277 385.5h7m-3.5-3.5v7M277 383.5h7m-3.5-3.5v7M277 382.5h7m-3.5-3.5v7M277 369.5h7m-3.5-3.5v7M277 371.5h7m-3.5-3.5v7M278 381.5h7m-3.5-3.5v7M278 379.5h7m-3.5-3.5v7M278 386.5h7m-3.5-3.5v7M278 377.5h7m-3.5-3.5v7M278 388.5h7m-3.5-3.5v7M279 370.5h7m-3.5-3.5v7M279 382.5h7m-3.5-3.5v7M279 375.5h7m-3.5-3.5v7M279 387.5h7m-3.5-3.5v7M280 369.5h7m-3.5-3.5v7M280 373.5h7m-3.5-3.5v7M280 365.5h7m-3.5-3.5v7M280 377.5h7m-3.5-3.5v7M280 387.5h7m-3.5-3.5v7M281 382.5h7m-3.5-3.5v7M281 385.5h7m-3.5-3.5v7M281 365.5h7m-3.5-3.5v7M281 380.5h7m-3.5-3.5v7M281 381.5h7m-3.5-3.5v7M282 371.5h7m-3.5-3.5v7M282 373.5h7m-3.5-3.5v7M282 371.5h7m-3.5-3.5v7M282 378.5h7m-3.5-3.5v7M283 370.5h7m-3.5-3.5v7M283 383.5h7m-3.5-3.5v7M283 358.5h7m-3.5-3.5v7M283 365.5h7m-3.5-3.5v7M283 367.5h7m-3.5-3.5v7M284 376.5h7m-3.5-3.5v7M284 369.5h7m-3.5-3.5v7M284 369.5h7m-3.5-3.5v7M284 369.5h7m-3.5-3.5v7M284 369.5h7m-3.5-3.5v7M285 367.5h7m-3.5-3.5v7M285 373.5h7m-3.5-3.5v7M285 379.5h7m-3.5-3.5v7M285 381.5h7m-3.5-3.5v7M285 364.5h7m-3.5-3.5v7M286 369.5h7m-3.5-3.5v7M286 374.5h7m-3.5-3.5v7M286 372.5h7m-3.5-3.5v7M286 379.5h7m-3.5-3.5v7M287 377.5h7m-3.5-3.5v7M287 375.5h7m-3.5-3.5v7M287 368.5h7m-3.5-3.5v7M287 374.5h7m-3.5-3.5v7M287 368.5h7m-3.5-3.5v7M288 367.5h7m-3.5-3.5v7M288 365.5h7m-3.5-3.5v7M288 363.5h7m-3.5-3.5v7M288 373.5h7m-3.5-3.5v7M288 373.5h7m-3.5-3.5v7M289 379.5h7m-3.5-3.5v7M289 372.5h7m-3.5-3.5v7M289 377.5h7m-3.5-3.5v7M289 384.5h7m-3.5-3.5v7M290 368.5h7m-3.5-3.5v7M290 372.5h7m-3.5-3.5v7M290 377.5h7m-3.5-3.5v7M290 389.5h7m-3.5-3.5v7M290 379.5h7m-3.5-3.5v7M291 387.5h7m-3.5-3.5v7M291 370.5h7m-3.5-3.5v7M291 377.5h7m-3.5-3.5v7M291 375.5h7m-3.5-3.5v7M291 373.5h7m-3.5-3.5v7M292 371.5h7m-3.5-3.5v7M292 381.5h7m-3.5-3.5v7M292 376.5h7m-3.5-3.5v7M292 379.5h7m-3.5-3.5v7M293 375.5h7m-3.5-3.5v7M293 377.5h7m-3.5-3.5v7M293 372.5h7m-3.5-3.5v7M293 378.5h7m-3.5-3.5v7M293 385.5h7m-3.5-3.5v7M294 381.5h7m-3.5-3.5v7M294 389.5h7m-3.5-3.5v7M294 381.5h7m-3.5-3.5v7M294 374.5h7m-3.5-3.5v7M294 387.5h7m-3.5-3.5v7M295 394.5h7m-3.5-3.5v7M295 385.5h7m-3.5-3.5v7M295 387.5h7m-3.5-3.5v7M295 385.5h7m-3.5-3.5v7M295 389.5h7m-3.5-3.5v7M296 385.5h7m-3.5-3.5v7M296 391.5h7m-3.5-3.5v7M296 377.5h7m-3.5-3.5v7M296 387.5h7m-3.5-3.5v7M297 383.5h7m-3.5-3.5v7M297 382.5h7m-3.5-3.5v7M297 388.5h7m-3.5-3.5v7M297 385.5h7m-3.5-3.5v7M297 389.5h7m-3.5-3.5v7M298 390.5h7m-3.5-3.5v7M298 389.5h7m-3.5-3.5v7M298 385.5h7m-3.5-3.5v7M298 395.5h7m-3.5-3.5v7M298 394.5h7m-3.5-3.5v7M299 393.5h7m-3.5-3.5v7M299 392.5h7m-3.5-3.5v7M299 383.5h7m-3.5-3.5v7M299 389.5h7m-3.5-3.5v7M300 391.5h7m-3.5-3.5v7M300 389.5h7m-3.5-3.5v7M300 384.5h7m-3.5-3.5v7M300 394.5h7m-3.5-3.5v7M300 385.5h7m-3.5-3.5v7M301 377.5h7m-3.5-3.5v7M301 395.5h7m-3.5-3.5v7M301 383.5h7m-3.5-3.5v7M301 382.5h7m-3.5-3.5v7M301 389.5h7m-3.5-3.5v7M302 393.5h7m-3.5-3.5v7M302 387.5h7m-3.5-3.5v7M302 393.5h7m-3.5-3.5v7M302 383.5h7m-3.5-3.5v7M303 385.5h7m-3.5-3.5v7M303 387.5h7m-3.5-3.5v7M303 396.5h7m-3.5-3.5v7M303 386.5h7m-3.5-3.5v7M303 393.5h7m-3.5-3.5v7M304 393.5h7m-3.5-3.5v7M304 394.5h7m-3.5-3.5v7M304 392.5h7m-3.5-3.5v7M304 389.5h7m-3.5-3.5v7M304 387.5h7m-3.5-3.5v7M305 387.5h7m-3.5-3.5v7M305 395.5h7m-3.5-3.5v7M305 393.5h7m-3.5-3.5v7M305 386.5h7m-3.5-3.5v7M305 395.5h7m-3.5-3.5v7M306 393.5h7m-3.5-3.5v7M306 398.5h7m-3.5-3.5v7M306 386.5h7m-3.5-3.5v7M306 391.5h7m-3.5-3.5v7M307 391.5h7m-3.5-3.5v7M307 393.5h7m-3.5-3.5v7M307 387.5h7m-3.5-3.5v7M307 395.5h7m-3.5-3.5v7M307 391.5h7m-3.5-3.5v7M308 389.5h7m-3.5-3.5v7M308 393.5h7m-3.5-3.5v7M308 396.5h7m-3.5-3.5v7M308 398.5h7m-3.5-3.5v7M308 389.5h7m-3.5-3.5v7M309 393.5h7m-3.5-3.5v7M309 397.5h7m-3.5-3.5v7M309 397.5h7m-3.5-3.5v7M309 393.5h7m-3.5-3.5v7M310 398.5h7m-3.5-3.5v7M310 383.5h7m-3.5-3.5v7M310 394.5h7m-3.5-3.5v7M310 394.5h7m-3.5-3.5v7M310 394.5h7m-3.5-3.5v7M311 402.5h7m-3.5-3.5v7M311 400.5h7m-3.5-3.5v7M311 395.5h7m-3.5-3.5v7M311 394.5h7m-3.5-3.5v7M311 400.5h7m-3.5-3.5v7M312 385.5h7m-3.5-3.5v7M312 392.5h7m-3.5-3.5v7M312 387.5h7m-3.5-3.5v7M312 388.5h7m-3.5-3.5v7M313 395.5h7m-3.5-3.5v7M313 382.5h7m-3.5-3.5v7M313 394.5h7m-3.5-3.5v7M313 403.5h7m-3.5-3.5v7M313 396.5h7m-3.5-3.5v7M314 395.5h7m-3.5-3.5v7M314 391.5h7m-3.5-3.5v7M314 395.5h7m-3.5-3.5v7M314 386.5h7m-3.5-3.5v7M314 396.5h7m-3.5-3.5v7M315 392.5h7m-3.5-3.5v7M315 391.5h7m-3.5-3.5v7M315 400.5h7m-3.5-3.5v7M315 393.5h7m-3.5-3.5v7M315 393.5h7m-3.5-3.5v7M316 390.5h7m-3.5-3.5v7M316 389.5h7m-3.5-3.5v7M316 391.5h7m-3.5-3.5v7M316 399.5h7m-3.5-3.5v7M317 392.5h7m-3.5-3.5v7M317 391.5h7m-3.5-3.5v7M317 395.5h7m-3.5-3.5v7M317 392.5h7m-3.5-3.5v7M317 392.5h7m-3.5-3.5v7M318 390.5h7m-3.5-3.5v7M318 395.5h7m-3.5-3.5v7M318 393.5h7m-3.5-3.5v7M318 395.5h7m-3.5-3.5v7M318 395.5h7m-3.5-3.5v7M319 398.5h7m-3.5-3.5v7M319 397.5h7m-3.5-3.5v7M319 401.5h7m-3.5-3.5v7M319 397.5h7m-3.5-3.5v7M320 393.5h7m-3.5-3.5v7M320 393.5h7m-3.5-3.5v7M320 392.5h7m-3.5-3.5v7M320 397.5h7m-3.5-3.5v7M320 389.5h7m-3.5-3.5v7M321 398.5h7m-3.5-3.5v7M321 392.5h7m-3.5-3.5v7M321 394.5h7m-3.5-3.5v7M321 399.5h7m-3.5-3.5v7M321 399.5h7m-3.5-3.5v7M322 392.5h7m-3.5-3.5v7M322 395.5h7m-3.5-3.5v7M322 395.5h7m-3.5-3.5v7M322 397.5h7m-3.5-3.5v7M323 393.5h7m-3.5-3.5v7M323 395.5h7m-3.5-3.5v7M323 392.5h7m-3.5-3.5v7M323 398.5h7m-3.5-3.5v7M323 397.5h7m-3.5-3.5v7M324 394.5h7m-3.5-3.5v7M324 400.5h7m-3.5-3.5v7M324 396.5h7m-3.5-3.5v7M324 397.5h7m-3.5-3.5v7M324 395.5h7m-3.5-3.5v7M325 404.5h7m-3.5-3.5v7M325 387.5h7m-3.5-3.5v7M325 396.5h7m-3.5-3.5v7M325 393.5h7m-3.5-3.5v7M325 400.5h7m-3.5-3.5v7M326 402.5h7m-3.5-3.5v7M326 396.5h7m-3.5-3.5v7M326 397.5h7m-3.5-3.5v7M326 393.5h7m-3.5-3.5v7M327 400.5h7m-3.5-3.5v7M327 400.5h7m-3.5-3.5v7M327 394.5h7m-3.5-3.5v7M327 393.5h7m-3.5-3.5v7M327 391.5h7m-3.5-3.5v7M328 396.5h7m-3.5-3.5v7M328 395.5h7m-3.5-3.5v7M328 399.5h7m-3.5-3.5v7M328 389.5h7m-3.5-3.5v7M328 391.5h7m-3.5-3.5v7M329 391.5h7m-3.5-3.5v7M329 403.5h7m-3.5-3.5v7M329 391.5h7m-3.5-3.5v7M329 399.5h7m-3.5-3.5v7M330 393.5h7m-3.5-3.5v7M330 394.5h7m-3.5-3.5v7M330 390.5h7m-3.5-3.5v7M330 397.5h7m-3.5-3.5v7M330 397.5h7m-3.5-3.5v7M331 400.5h7m-3.5-3.5v7M331 401.5h7m-3.5-3.5v7M331 393.5h7m-3.5-3.5v7M331 400.5h7m-3.5-3.5v7M331 393.5h7m-3.5-3.5v7M332 397.5h7m-3.5-3.5v7M332 398.5h7m-3.5-3.5v7M332 391.5h7m-3.5-3.5v7M332 392.5h7m-3.5-3.5v7M333 400.5h7m-3.5-3.5v7M333 397.5h7m-3.5-3.5v7M333 396.5h7m-3.5-3.5v7M333 393.5h7m-3.5-3.5v7M333 399.5h7m-3.5-3.5v7M334 398.5h7m-3.5-3.5v7M334 397.5h7m-3.5-3.5v7M334 393.5h7m-3.5-3.5v7M334 391.5h7m-3.5-3.5v7M334 398.5h7m-3.5-3.5v7M335 387.5h7m-3.5-3.5v7M335 394.5h7m-3.5-3.5v7M335 399.5h7m-3.5-3.5v7M335 403.5h7m-3.5-3.5v7M335 398.5h7m-3.5-3.5v7M336 391.5h7m-3.5-3.5v7M336 395.5h7m-3.5-3.5v7M336 393.5h7m-3.5-3.5v7M336 390.5h7m-3.5-3.5v7M337 393.5h7m-3.5-3.5v7M337 404.5h7m-3.5-3.5v7M337 397.5h7m-3.5-3.5v7M337 393.5h7m-3.5-3.5v7M337 397.5h7m-3.5-3.5v7M338 400.5h7m-3.5-3.5v7M338 393.5h7m-3.5-3.5v7M338 395.5h7m-3.5-3.5v7M338 393.5h7m-3.5-3.5v7M338 398.5h7m-3.5-3.5v7M339 395.5h7m-3.5-3.5v7M339 386.5h7m-3.5-3.5v7M339 398.5h7m-3.5-3.5v7M339 400.5h7m-3.5-3.5v7M340 395.5h7m-3.5-3.5v7M340 394.5h7m-3.5-3.5v7M340 393.5h7m-3.5-3.5v7M340 389.5h7m-3.5-3.5v7M340 396.5h7m-3.5-3.5v7M341 402.5h7m-3.5-3.5v7M341 395.5h7m-3.5-3.5v7M341 395.5h7m-3.5-3.5v7M341 391.5h7m-3.5-3.5v7M341 391.5h7m-3.5-3.5v7M342 398.5h7m-3.5-3.5v7M342 392.5h7m-3.5-3.5v7M342 391.5h7m-3.5-3.5v7M342 396.5h7m-3.5-3.5v7M343 391.5h7m-3.5-3.5v7M343 395.5h7m-3.5-3.5v7M343 395.5h7m-3.5-3.5v7M343 396.5h7m-3.5-3.5v7M343 391.5h7m-3.5-3.5v7M344 389.5h7m-3.5-3.5v7M344 394.5h7m-3.5-3.5v7M344 400.5h7m-3.5-3.5v7M344 396.5h7m-3.5-3.5v7M344 398.5h7m-3.5-3.5v7M345 393.5h7m-3.5-3.5v7M345 396.5h7m-3.5-3.5v7M345 383.5h7m-3.5-3.5v7M345 391.5h7m-3.5-3.5v7M345 386.5h7m-3.5-3.5v7M346 398.5h7m-3.5-3.5v7M346 396.5h7m-3.5-3.5v7M346 385.5h7m-3.5-3.5v7M346 403.5h7m-3.5-3.5v7M347 394.5h7m-3.5-3.5v7M347 402.5h7m-3.5-3.5v7M347 387.5h7m-3.5-3.5v7M347 402.5h7m-3.5-3.5v7M347 396.5h7m-3.5-3.5v7M348 396.5h7m-3.5-3.5v7M348 402.5h7m-3.5-3.5v7M348 383.5h7m-3.5-3.5v7M348 395.5h7m-3.5-3.5v7M348 387.5h7m-3.5-3.5v7M349 398.5h7m-3.5-3.5v7M349 402.5h7m-3.5-3.5v7M349 393.5h7m-3.5-3.5v7M349 394.5h7m-3.5-3.5v7M350 389.5h7m-3.5-3.5v7M350 400.5h7m-3.5-3.5v7M350 402.5h7m-3.5-3.5v7M350 398.5h7m-3.5-3.5v7M350 393.5h7m-3.5-3.5v7M351 392.5h7m-3.5-3.5v7M351 398.5h7m-3.5-3.5v7M351 396.5h7m-3.5-3.5v7M351 392.5h7m-3.5-3.5v7M351 389.5h7m-3.5-3.5v7M352 397.5h7m-3.5-3.5v7M352 394.5h7m-3.5-3.5v7M352 402.5h7m-3.5-3.5v7M352 399.5h7m-3.5-3.5v7M353 392.5h7m-3.5-3.5v7M353 395.5h7m-3.5-3.5v7M353 395.5h7m-3.5-3.5v7M353 387.5h7m-3.5-3.5v7M353 396.5h7m-3.5-3.5v7M354 400.5h7m-3.5-3.5v7M354 393.5h7m-3.5-3.5v7M354 393.5h7m-3.5-3.5v7M354 400.5h7m-3.5-3.5v7M354 389.5h7m-3.5-3.5v7M355 386.5h7m-3.5-3.5v7M355 397.5h7m-3.5-3.5v7M355 398.5h7m-3.5-3.5v7M355 395.5h7m-3.5-3.5v7M355 388.5h7m-3.5-3.5v7M356 397.5h7m-3.5-3.5v7M356 398.5h7m-3.5-3.5v7M356 397.5h7m-3.5-3.5v7M356 393.5h7m-3.5-3.5v7M357 393.5h7m-3.5-3.5v7M357 395.5h7m-3.5-3.5v7M357 388.5h7m-3.5-3.5v7M357 383.5h7m-3.5-3.5v7M357 397.5h7m-3.5-3.5v7M358 389.5h7m-3.5-3.5v7M358 393.5h7m-3.5-3.5v7M358 398.5h7m-3.5-3.5v7M358 398.5h7m-3.5-3.5v7M358 396.5h7m-3.5-3.5v7M359 394.5h7m-3.5-3.5v7M359 401.5h7m-3.5-3.5v7M359 395.5h7m-3.5-3.5v7M359 391.5h7m-3.5-3.5v7M360 401.5h7m-3.5-3.5v7M360 394.5h7m-3.5-3.5v7M360 386.5h7m-3.5-3.5v7M360 397.5h7m-3.5-3.5v7M360 399.5h7m-3.5-3.5v7M361 402.5h7m-3.5-3.5v7M361 395.5h7m-3.5-3.5v7M361 402.5h7m-3.5-3.5v7M361 392.5h7m-3.5-3.5v7M361 387.5h7m-3.5-3.5v7M362 393.5h7m-3.5-3.5v7M362 399.5h7m-3.5-3.5v7M362 392.5h7m-3.5-3.5v7M362 397.5h7m-3.5-3.5v7M363 400.5h7m-3.5-3.5v7M363 398.5h7m-3.5-3.5v7M363 394.5h7m-3.5-3.5v7M363 397.5h7m-3.5-3.5v7M363 393.5h7m-3.5-3.5v7M364 385.5h7m-3.5-3.5v7M364 393.5h7m-3.5-3.5v7M364 392.5h7m-3.5-3.5v7M364 398.5h7m-3.5-3.5v7M364 389.5h7m-3.5-3.5v7M365 394.5h7m-3.5-3.5v7M365 391.5h7m-3.5-3.5v7M365 400.5h7m-3.5-3.5v7M365 395.5h7m-3.5-3.5v7M365 400.5h7m-3.5-3.5v7M366 398.5h7m-3.5-3.5v7M366 400.5h7m-3.5-3.5v7M366 401.5h7m-3.5-3.5v7M366 388.5h7m-3.5-3.5v7M367 403.5h7m-3.5-3.5v7M367 397.5h7m-3.5-3.5v7M367 397.5h7m-3.5-3.5v7M367 394.5h7m-3.5-3.5v7M367 392.5h7m-3.5-3.5v7M368 404.5h7m-3.5-3.5v7M368 399.5h7m-3.5-3.5v7M368 400.5h7m-3.5-3.5v7M368 393.5h7m-3.5-3.5v7M368 393.5h7m-3.5-3.5v7M369 398.5h7m-3.5-3.5v7M369 399.5h7m-3.5-3.5v7M369 402.5h7m-3.5-3.5v7M369 395.5h7m-3.5-3.5v7M370 389.5h7m-3.5-3.5v7M370 395.5h7m-3.5-3.5v7M370 400.5h7m-3.5-3.5v7M370 401.5h7m-3.5-3.5v7M370 400.5h7m-3.5-3.5v7M371 405.5h7m-3.5-3.5v7M371 389.5h7m-3.5-3.5v7M371 397.5h7m-3.5-3.5v7M371 399.5h7m-3.5-3.5v7M371 387.5h7m-3.5-3.5v7M372 397.5h7m-3.5-3.5v7M372 391.5h7m-3.5-3.5v7M372 397.5h7m-3.5-3.5v7M372 393.5h7m-3.5-3.5v7M373 397.5h7m-3.5-3.5v7M373 400.5h7m-3.5-3.5v7M373 396.5h7m-3.5-3.5v7M373 395.5h7m-3.5-3.5v7M373 393.5h7m-3.5-3.5v7M374 397.5h7m-3.5-3.5v7M374 399.5h7m-3.5-3.5v7M374 400.5h7m-3.5-3.5v7M374 397.5h7m-3.5-3.5v7M374 400.5h7m-3.5-3.5v7M375 400.5h7m-3.5-3.5v7M375 396.5h7m-3.5-3.5v7M375 396.5h7m-3.5-3.5v7M375 397.5h7m-3.5-3.5v7M375 402.5h7m-3.5-3.5v7M376 405.5h7m-3.5-3.5v7M376 398.5h7m-3.5-3.5v7M376 398.5h7m-3.5-3.5v7M376 400.5h7m-3.5-3.5v7M377 398.5h7m-3.5-3.5v7M377 395.5h7m-3.5-3.5v7M377 400.5h7m-3.5-3.5v7M377 397.5h7m-3.5-3.5v7M377 403.5h7m-3.5-3.5v7M378 402.5h7m-3.5-3.5v7M378 400.5h7m-3.5-3.5v7M378 406.5h7m-3.5-3.5v7M378 404.5h7m-3.5-3.5v7M378 401.5h7m-3.5-3.5v7M379 403.5h7m-3.5-3.5v7M379 400.5h7m-3.5-3.5v7M379 391.5h7m-3.5-3.5v7M379 396.5h7m-3.5-3.5v7M380 397.5h7m-3.5-3.5v7M380 400.5h7m-3.5-3.5v7M380 399.5h7m-3.5-3.5v7M380 398.5h7m-3.5-3.5v7M380 405.5h7m-3.5-3.5v7M381 397.5h7m-3.5-3.5v7M381 405.5h7m-3.5-3.5v7M381 400.5h7m-3.5-3.5v7M381 398.5h7m-3.5-3.5v7M381 402.5h7m-3.5-3.5v7M382 412.5h7m-3.5-3.5v7M382 401.5h7m-3.5-3.5v7M382 404.5h7m-3.5-3.5v7M382 402.5h7m-3.5-3.5v7M383 396.5h7m-3.5-3.5v7M383 397.5h7m-3.5-3.5v7M383 402.5h7m-3.5-3.5v7M383 402.5h7m-3.5-3.5v7M383 403.5h7m-3.5-3.5v7M384 401.5h7m-3.5-3.5v7M384 407.5h7m-3.5-3.5v7M384 404.5h7m-3.5-3.5v7M384 402.5h7m-3.5-3.5v7M384 404.5h7m-3.5-3.5v7M385 402.5h7m-3.5-3.5v7M385 402.5h7m-3.5-3.5v7M385 401.5h7m-3.5-3.5v7M385 396.5h7m-3.5-3.5v7M385 403.5h7m-3.5-3.5v7M386 405.5h7m-3.5-3.5v7M386 403.5h7m-3.5-3.5v7M386 399.5h7m-3.5-3.5v7M386 399.5h7m-3.5-3.5v7M387 403.5h7m-3.5-3.5v7M387 401.5h7m-3.5-3.5v7M387 403.5h7m-3.5-3.5v7M387 401.5h7m-3.5-3.5v7M387 401.5h7m-3.5-3.5v7M388 397.5h7m-3.5-3.5v7M388 406.5h7m-3.5-3.5v7M388 406.5h7m-3.5-3.5v7M388 401.5h7m-3.5-3.5v7M388 402.5h7m-3.5-3.5v7M389 394.5h7m-3.5-3.5v7M389 402.5h7m-3.5-3.5v7M389 409.5h7m-3.5-3.5v7M389 404.5h7m-3.5-3.5v7M390 413.5h7m-3.5-3.5v7M390 402.5h7m-3.5-3.5v7M390 404.5h7m-3.5-3.5v7M390 405.5h7m-3.5-3.5v7M390 406.5h7m-3.5-3.5v7M391 406.5h7m-3.5-3.5v7M391 397.5h7m-3.5-3.5v7M391 403.5h7m-3.5-3.5v7M391 398.5h7m-3.5-3.5v7M391 402.5h7m-3.5-3.5v7M392 403.5h7m-3.5-3.5v7M392 394.5h7m-3.5-3.5v7M392 400.5h7m-3.5-3.5v7M392 402.5h7m-3.5-3.5v7M393 400.5h7m-3.5-3.5v7M393 401.5h7m-3.5-3.5v7M393 403.5h7m-3.5-3.5v7M393 402.5h7m-3.5-3.5v7M393 398.5h7m-3.5-3.5v7M394 402.5h7m-3.5-3.5v7M394 407.5h7m-3.5-3.5v7M394 404.5h7m-3.5-3.5v7M394 401.5h7m-3.5-3.5v7M394 396.5h7m-3.5-3.5v7M395 402.5h7m-3.5-3.5v7M395 397.5h7m-3.5-3.5v7M395 410.5h7m-3.5-3.5v7M395 404.5h7m-3.5-3.5v7M395 397.5h7m-3.5-3.5v7M396 405.5h7m-3.5-3.5v7M396 403.5h7m-3.5-3.5v7M396 407.5h7m-3.5-3.5v7M396 401.5h7m-3.5-3.5v7M397 397.5h7m-3.5-3.5v7M397 406.5h7m-3.5-3.5v7M397 401.5h7m-3.5-3.5v7M397 404.5h7m-3.5-3.5v7M397 408.5h7m-3.5-3.5v7M398 404.5h7m-3.5-3.5v7M398 404.5h7m-3.5-3.5v7M398 400.5h7m-3.5-3.5v7M398 400.5h7m-3.5-3.5v7M398 402.5h7m-3.5-3.5v7M399 402.5h7m-3.5-3.5v7M399 406.5h7m-3.5-3.5v7M399 405.5h7m-3.5-3.5v7M399 411.5h7m-3.5-3.5v7M400 402.5h7m-3.5-3.5v7M400 408.5h7m-3.5-3.5v7M400 406.5h7m-3.5-3.5v7M400 401.5h7m-3.5-3.5v7M400 408.5h7m-3.5-3.5v7M401 407.5h7m-3.5-3.5v7M401 402.5h7m-3.5-3.5v7M401 403.5h7m-3.5-3.5v7M401 407.5h7m-3.5-3.5v7M401 404.5h7m-3.5-3.5v7M402 407.5h7m-3.5-3.5v7M402 404.5h7m-3.5-3.5v7M402 404.5h7m-3.5-3.5v7M402 404.5h7m-3.5-3.5v7M403 402.5h7m-3.5-3.5v7M403 410.5h7m-3.5-3.5v7M403 402.5h7m-3.5-3.5v7M403 402.5h7m-3.5-3.5v7M403 401.5h7m-3.5-3.5v7M404 408.5h7m-3.5-3.5v7M404 408.5h7m-3.5-3.5v7M404 407.5h7m-3.5-3.5v7M404 400.5h7m-3.5-3.5v7M404 400.5h7m-3.5-3.5v7M405 405.5h7m-3.5-3.5v7M405 410.5h7m-3.5-3.5v7M405 407.5h7m-3.5-3.5v7M405 399.5h7m-3.5-3.5v7M405 403.5h7m-3.5-3.5v7M406 408.5h7m-3.5-3.5v7M406 403.5h7m-3.5-3.5v7M406 408.5h7m-3.5-3.5v7M406 400.5h7m-3.5-3.5v7M407 412.5h7m-3.5-3.5v7M407 410.5h7m-3.5-3.5v7M407 402.5h7m-3.5-3.5v7M407 400.5h7m-3.5-3.5v7M407 404.5h7m-3.5-3.5v7M408 409.5h7m-3.5-3.5v7M408 402.5h7m-3.5-3.5v7M408 410.5h7m-3.5-3.5v7M408 410.5h7m-3.5-3.5v7M408 408.5h7m-3.5-3.5v7M409 401.5h7m-3.5-3.5v7M409 404.5h7m-3.5-3.5v7M409 410.5h7m-3.5-3.5v7M409 410.5h7m-3.5-3.5v7M410 414.5h7m-3.5-3.5v7M410 402.5h7m-3.5-3.5v7M410 408.5h7m-3.5-3.5v7M410 409.5h7m-3.5-3.5v7M410 404.5h7m-3.5-3.5v7M411 406.5h7m-3.5-3.5v7M411 408.5h7m-3.5-3.5v7M411 413.5h7m-3.5-3.5v7M411 408.5h7m-3.5-3.5v7M411 405.5h7m-3.5-3.5v7M412 408.5h7m-3.5-3.5v7M412 404.5h7m-3.5-3.5v7M412 411.5h7m-3.5-3.5v7M412 408.5h7m-3.5-3.5v7M413 406.5h7m-3.5-3.5v7M413 404.5h7m-3.5-3.5v7M413 408.5h7m-3.5-3.5v7M413 406.5h7m-3.5-3.5v7M413 412.5h7m-3.5-3.5v7M414 400.5h7m-3.5-3.5v7M414 406.5h7m-3.5-3.5v7M414 407.5h7m-3.5-3.5v7M414 401.5h7m-3.5-3.5v7M414 400.5h7m-3.5-3.5v7M415 406.5h7m-3.5-3.5v7M415 400.5h7m-3.5-3.5v7M415 402.5h7m-3.5-3.5v7M415 405.5h7m-3.5-3.5v7M415 403.5h7m-3.5-3.5v7M416 401.5h7m-3.5-3.5v7M416 408.5h7m-3.5-3.5v7M416 404.5h7m-3.5-3.5v7M416 408.5h7m-3.5-3.5v7M417 413.5h7m-3.5-3.5v7M417 405.5h7m-3.5-3.5v7M417 406.5h7m-3.5-3.5v7M417 409.5h7m-3.5-3.5v7M417 398.5h7m-3.5-3.5v7M418 404.5h7m-3.5-3.5v7M418 407.5h7m-3.5-3.5v7M418 406.5h7m-3.5-3.5v7M418 402.5h7m-3.5-3.5v7M418 402.5h7m-3.5-3.5v7M419 400.5h7m-3.5-3.5v7M419 406.5h7m-3.5-3.5v7M419 402.5h7m-3.5-3.5v7M419 404.5h7m-3.5-3.5v7M420 406.5h7m-3.5-3.5v7M420 406.5h7m-3.5-3.5v7M420 407.5h7m-3.5-3.5v7M420 406.5h7m-3.5-3.5v7M420 406.5h7m-3.5-3.5v7M421 413.5h7m-3.5-3.5v7M421 408.5h7m-3.5-3.5v7M421 403.5h7m-3.5-3.5v7M421 405.5h7m-3.5-3.5v7M421 402.5h7m-3.5-3.5v7M422 408.5h7m-3.5-3.5v7M422 407.5h7m-3.5-3.5v7M422 409.5h7m-3.5-3.5v7M422 401.5h7m-3.5-3.5v7M423 408.5h7m-3.5-3.5v7M423 409.5h7m-3.5-3.5v7M423 402.5h7m-3.5-3.5v7M423 404.5h7m-3.5-3.5v7M423 404.5h7m-3.5-3.5v7M424 408.5h7m-3.5-3.5v7M424 404.5h7m-3.5-3.5v7M424 399.5h7m-3.5-3.5v7M424 402.5h7m-3.5-3.5v7M424 406.5h7m-3.5-3.5v7M425 403.5h7m-3.5-3.5v7M425 406.5h7m-3.5-3.5v7M425 410.5h7m-3.5-3.5v7M425 402.5h7m-3.5-3.5v7M425 402.5h7m-3.5-3.5v7M426 402.5h7m-3.5-3.5v7M426 403.5h7m-3.5-3.5v7M426 399.5h7m-3.5-3.5v7M426 402.5h7m-3.5-3.5v7M427 400.5h7m-3.5-3.5v7M427 402.5h7m-3.5-3.5v7M427 403.5h7m-3.5-3.5v7M427 408.5h7m-3.5-3.5v7M427 403.5h7m-3.5-3.5v7M428 401.5h7m-3.5-3.5v7M428 414.5h7m-3.5-3.5v7M428 406.5h7m-3.5-3.5v7M428 404.5h7m-3.5-3.5v7M428 404.5h7m-3.5-3.5v7M429 404.5h7m-3.5-3.5v7M429 401.5h7m-3.5-3.5v7M429 402.5h7m-3.5-3.5v7M429 406.5h7m-3.5-3.5v7M430 402.5h7m-3.5-3.5v7M430 400.5h7m-3.5-3.5v7M430 400.5h7m-3.5-3.5v7M430 402.5h7m-3.5-3.5v7M430 401.5h7m-3.5-3.5v7M431 401.5h7m-3.5-3.5v7M431 395.5h7m-3.5-3.5v7M431 408.5h7m-3.5-3.5v7M431 408.5h7m-3.5-3.5v7M431 398.5h7m-3.5-3.5v7M432 407.5h7m-3.5-3.5v7M432 404.5h7m-3.5-3.5v7M432 402.5h7m-3.5-3.5v7M432 404.5h7m-3.5-3.5v7M433 400.5h7m-3.5-3.5v7M433 400.5h7m-3.5-3.5v7M433 403.5h7m-3.5-3.5v7M433 403.5h7m-3.5-3.5v7M433 410.5h7m-3.5-3.5v7M434 402.5h7m-3.5-3.5v7M434 406.5h7m-3.5-3.5v7M434 402.5h7m-3.5-3.5v7M434 402.5h7m-3.5-3.5v7M434 402.5h7m-3.5-3.5v7M435 400.5h7m-3.5-3.5v7M435 396.5h7m-3.5-3.5v7M435 404.5h7m-3.5-3.5v7M435 406.5h7m-3.5-3.5v7M435 409.5h7m-3.5-3.5v7M436 400.5h7m-3.5-3.5v7M436 404.5h7m-3.5-3.5v7M436 400.5h7m-3.5-3.5v7M436 398.5h7m-3.5-3.5v7M437 393.5h7m-3.5-3.5v7M437 400.5h7m-3.5-3.5v7M437 393.5h7m-3.5-3.5v7M437 402.5h7m-3.5-3.5v7M437 399.5h7m-3.5-3.5v7M438 404.5h7m-3.5-3.5v7M438 392.5h7m-3.5-3.5v7M438 401.5h7m-3.5-3.5v7M438 396.5h7m-3.5-3.5v7M438 403.5h7m-3.5-3.5v7M439 403.5h7m-3.5-3.5v7M439 390.5h7m-3.5-3.5v7M439 402.5h7m-3.5-3.5v7M439 400.5h7m-3.5-3.5v7M440 401.5h7m-3.5-3.5v7M440 400.5h7m-3.5-3.5v7M440 400.5h7m-3.5-3.5v7M440 404.5h7m-3.5-3.5v7M440 387.5h7m-3.5-3.5v7M441 400.5h7m-3.5-3.5v7M441 395.5h7m-3.5-3.5v7M441 397.5h7m-3.5-3.5v7M441 391.5h7m-3.5-3.5v7M441 393.5h7m-3.5-3.5v7M442 391.5h7m-3.5-3.5v7M442 391.5h7m-3.5-3.5v7M442 392.5h7m-3.5-3.5v7M442 396.5h7m-3.5-3.5v7M443 391.5h7m-3.5-3.5v7M443 403.5h7m-3.5-3.5v7M443 391.5h7m-3.5-3.5v7M443 392.5h7m-3.5-3.5v7M443 393.5h7m-3.5-3.5v7M444 401.5h7m-3.5-3.5v7M444 388.5h7m-3.5-3.5v7M444 398.5h7m-3.5-3.5v7M444 391.5h7m-3.5-3.5v7M444 403.5h7m-3.5-3.5v7M445 395.5h7m-3.5-3.5v7M445 397.5h7m-3.5-3.5v7M445 398.5h7m-3.5-3.5v7M445 397.5h7m-3.5-3.5v7M445 385.5h7m-3.5-3.5v7M446 393.5h7m-3.5-3.5v7M446 391.5h7m-3.5-3.5v7M446 383.5h7m-3.5-3.5v7M446 400.5h7m-3.5-3.5v7M447 385.5h7m-3.5-3.5v7M447 395.5h7m-3.5-3.5v7M447 396.5h7m-3.5-3.5v7M447 395.5h7m-3.5-3.5v7M447 402.5h7m-3.5-3.5v7M448 400.5h7m-3.5-3.5v7M448 398.5h7m-3.5-3.5v7M448 395.5h7m-3.5-3.5v7M448 389.5h7m-3.5-3.5v7M448 387.5h7m-3.5-3.5v7M449 394.5h7m-3.5-3.5v7M449 390.5h7m-3.5-3.5v7M449 390.5h7m-3.5-3.5v7M449 393.5h7m-3.5-3.5v7M450 391.5h7m-3.5-3.5v7M450 395.5h7m-3.5-3.5v7M450 389.5h7m-3.5-3.5v7M450 393.5h7m-3.5-3.5v7M450 391.5h7m-3.5-3.5v7M451 391.5h7m-3.5-3.5v7M451 391.5h7m-3.5-3.5v7M451 395.5h7m-3.5-3.5v7M451 398.5h7m-3.5-3.5v7M451 392.5h7m-3.5-3.5v7M452 395.5h7m-3.5-3.5v7M452 395.5h7m-3.5-3.5v7M452 392.5h7m-3.5-3.5v7M452 395.5h7m-3.5-3.5v7M453 389.5h7m-3.5-3.5v7M453 389.5h7m-3.5-3.5v7M453 396.5h7m-3.5-3.5v7M453 389.5h7m-3.5-3.5v7M453 397.5h7m-3.5-3.5v7M454 388.5h7m-3.5-3.5v7M454 388.5h7m-3.5-3.5v7M454 391.5h7m-3.5-3.5v7M454 387.5h7m-3.5-3.5v7M454 386.5h7m-3.5-3.5v7M455 389.5h7m-3.5-3.5v7M455 401.5h7m-3.5-3.5v7M455 391.5h7m-3.5-3.5v7M455 391.5h7m-3.5-3.5v7M455 387.5h7m-3.5-3.5v7M456 397.5h7m-3.5-3.5v7M456 388.5h7m-3.5-3.5v7M456 390.5h7m-3.5-3.5v7M456 389.5h7m-3.5-3.5v7M457 398.5h7m-3.5-3.5v7M457 396.5h7m-3.5-3.5v7M457 386.5h7m-3.5-3.5v7M457 387.5h7m-3.5-3.5v7M457 392.5h7m-3.5-3.5v7M458 386.5h7m-3.5-3.5v7M458 391.5h7m-3.5-3.5v7M458 394.5h7m-3.5-3.5v7M458 400.5h7m-3.5-3.5v7M458 387.5h7m-3.5-3.5v7M459 393.5h7m-3.5-3.5v7M459 391.5h7m-3.5-3.5v7M459 401.5h7m-3.5-3.5v7M459 395.5h7m-3.5-3.5v7M460 391.5h7m-3.5-3.5v7M460 394.5h7m-3.5-3.5v7M460 397.5h7m-3.5-3.5v7M460 398.5h7m-3.5-3.5v7M460 392.5h7m-3.5-3.5v7M461 395.5h7m-3.5-3.5v7M461 395.5h7m-3.5-3.5v7M461 395.5h7m-3.5-3.5v7M461 397.5h7m-3.5-3.5v7M461 396.5h7m-3.5-3.5v7M462 397.5h7m-3.5-3.5v7M462 395.5h7m-3.5-3.5v7M462 401.5h7m-3.5-3.5v7M462 400.5h7m-3.5-3.5v7M463 395.5h7m-3.5-3.5v7M463 396.5h7m-3.5-3.5v7M463 395.5h7m-3.5-3.5v7M463 386.5h7m-3.5-3.5v7M463 393.5h7m-3.5-3.5v7M464 391.5h7m-3.5-3.5v7M464 395.5h7m-3.5-3.5v7M464 397.5h7m-3.5-3.5v7M464 400.5h7m-3.5-3.5v7M464 405.5h7m-3.5-3.5v7M465 403.5h7m-3.5-3.5v7M465 395.5h7m-3.5-3.5v7M465 402.5h7m-3.5-3.5v7M465 404.5h7m-3.5-3.5v7M465 402.5h7m-3.5-3.5v7M466 398.5h7m-3.5-3.5v7M466 400.5h7m-3.5-3.5v7M466 395.5h7m-3.5-3.5v7M466 395.5h7m-3.5-3.5v7M467 395.5h7m-3.5-3.5v7M467 395.5h7m-3.5-3.5v7M467 398.5h7m-3.5-3.5v7M467 394.5h7m-3.5-3.5v7M467 402.5h7m-3.5-3.5v7M468 398.5h7m-3.5-3.5v7M468 391.5h7m-3.5-3.5v7M468 396.5h7m-3.5-3.5v7M468 404.5h7m-3.5-3.5v7M468 398.5h7m-3.5-3.5v7M469 405.5h7m-3.5-3.5v7M469 393.5h7m-3.5-3.5v7M469 401.5h7m-3.5-3.5v7M469 406.5h7m-3.5-3.5v7M470 409.5h7m-3.5-3.5v7M470 406.5h7m-3.5-3.5v7M470 402.5h7m-3.5-3.5v7M470 403.5h7m-3.5-3.5v7M470 403.5h7m-3.5-3.5v7M471 402.5h7m-3.5-3.5v7M471 401.5h7m-3.5-3.5v7M471 402.5h7m-3.5-3.5v7M471 402.5h7m-3.5-3.5v7M471 404.5h7m-3.5-3.5v7M472 400.5h7m-3.5-3.5v7M472 395.5h7m-3.5-3.5v7M472 397.5h7m-3.5-3.5v7M472 405.5h7m-3.5-3.5v7M473 404.5h7m-3.5-3.5v7M473 406.5h7m-3.5-3.5v7M473 402.5h7m-3.5-3.5v7M473 408.5h7m-3.5-3.5v7M473 408.5h7m-3.5-3.5v7M474 402.5h7m-3.5-3.5v7M474 405.5h7m-3.5-3.5v7M474 406.5h7m-3.5-3.5v7M474 404.5h7m-3.5-3.5v7M474 404.5h7m-3.5-3.5v7M475 406.5h7m-3.5-3.5v7M475 412.5h7m-3.5-3.5v7M475 411.5h7m-3.5-3.5v7M475 411.5h7m-3.5-3.5v7M475 398.5h7m-3.5-3.5v7M476 406.5h7m-3.5-3.5v7M476 404.5h7m-3.5-3.5v7M476 410.5h7m-3.5-3.5v7M476 406.5h7m-3.5-3.5v7M477 409.5h7m-3.5-3.5v7M477 405.5h7m-3.5-3.5v7M477 404.5h7m-3.5-3.5v7M477 406.5h7m-3.5-3.5v7M477 402.5h7m-3.5-3.5v7M478 407.5h7m-3.5-3.5v7M478 407.5h7m-3.5-3.5v7M478 406.5h7m-3.5-3.5v7M478 407.5h7m-3.5-3.5v7M478 411.5h7m-3.5-3.5v7M479 408.5h7m-3.5-3.5v7M479 408.5h7m-3.5-3.5v7M479 413.5h7m-3.5-3.5v7M479 404.5h7m-3.5-3.5v7M480 408.5h7m-3.5-3.5v7M480 406.5h7m-3.5-3.5v7M480 400.5h7m-3.5-3.5v7M480 406.5h7m-3.5-3.5v7M480 416.5h7m-3.5-3.5v7M481 406.5h7m-3.5-3.5v7M481 411.5h7m-3.5-3.5v7M481 412.5h7m-3.5-3.5v7M481 410.5h7m-3.5-3.5v7M481 406.5h7m-3.5-3.5v7M482 408.5h7m-3.5-3.5v7M482 408.5h7m-3.5-3.5v7M482 408.5h7m-3.5-3.5v7M482 407.5h7m-3.5-3.5v7M483 404.5h7m-3.5-3.5v7M483 410.5h7m-3.5-3.5v7M483 410.5h7m-3.5-3.5v7M483 410.5h7m-3.5-3.5v7M483 404.5h7m-3.5-3.5v7M484 410.5h7m-3.5-3.5v7M484 410.5h7m-3.5-3.5v7M484 412.5h7m-3.5-3.5v7M484 414.5h7m-3.5-3.5v7M484 408.5h7m-3.5-3.5v7M485 408.5h7m-3.5-3.5v7M485 412.5h7m-3.5-3.5v7M485 408.5h7m-3.5-3.5v7M485 410.5h7m-3.5-3.5v7M485 406.5h7m-3.5-3.5v7M486 412.5h7m-3.5-3.5v7M486 407.5h7m-3.5-3.5v7M486 412.5h7m-3.5-3.5v7M486 404.5h7m-3.5-3.5v7M487 411.5h7m-3.5-3.5v7M487 407.5h7m-3.5-3.5v7M487 411.5h7m-3.5-3.5v7M487 410.5h7m-3.5-3.5v7M487 408.5h7m-3.5-3.5v7M488 410.5h7m-3.5-3.5v7M488 412.5h7m-3.5-3.5v7M488 409.5h7m-3.5-3.5v7M488 407.5h7m-3.5-3.5v7M488 403.5h7m-3.5-3.5v7M489 408.5h7m-3.5-3.5v7M489 409.5h7m-3.5-3.5v7M489 410.5h7m-3.5-3.5v7M489 402.5h7m-3.5-3.5v7M490 410.5h7m-3.5-3.5v7M490 408.5h7m-3.5-3.5v7M490 408.5h7m-3.5-3.5v7M490 406.5h7m-3.5-3.5v7M490 409.5h7m-3.5-3.5v7M491 406.5h7m-3.5-3.5v7M491 409.5h7m-3.5-3.5v7M491 408.5h7m-3.5-3.5v7M491 411.5h7m-3.5-3.5v7M491 407.5h7m-3.5-3.5v7M492 412.5h7m-3.5-3.5v7M492 408.5h7m-3.5-3.5v7M492 406.5h7m-3.5-3.5v7M492 407.5h7m-3.5-3.5v7M493 412.5h7m-3.5-3.5v7M493 410.5h7m-3.5-3.5v7M493 409.5h7m-3.5-3.5v7M493 412.5h7m-3.5-3.5v7M493 410.5h7m-3.5-3.5v7M494 410.5h7m-3.5-3.5v7M494 406.5h7m-3.5-3.5v7M494 408.5h7m-3.5-3.5v7M494 407.5h7m-3.5-3.5v7M494 416.5h7m-3.5-3.5v7M495 410.5h7m-3.5-3.5v7M495 411.5h7m-3.5-3.5v7M495 416.5h7m-3.5-3.5v7M495 406.5h7m-3.5-3.5v7M495 413.5h7m-3.5-3.5v7M496 414.5h7m-3.5-3.5v7M496 414.5h7m-3.5-3.5v7M496 412.5h7m-3.5-3.5v7M496 413.5h7m-3.5-3.5v7M497 403.5h7m-3.5-3.5v7M497 408.5h7m-3.5-3.5v7M497 407.5h7m-3.5-3.5v7M497 407.5h7m-3.5-3.5v7M497 407.5h7m-3.5-3.5v7M498 412.5h7m-3.5-3.5v7M498 407.5h7m-3.5-3.5v7M498 403.5h7m-3.5-3.5v7M498 405.5h7m-3.5-3.5v7M498 409.5h7m-3.5-3.5v7M499 409.5h7m-3.5-3.5v7M499 410.5h7m-3.5-3.5v7M499 409.5h7m-3.5-3.5v7M499 407.5h7m-3.5-3.5v7M500 410.5h7m-3.5-3.5v7M500 413.5h7m-3.5-3.5v7M500 410.5h7m-3.5-3.5v7M500 409.5h7m-3.5-3.5v7M500 411.5h7m-3.5-3.5v7M501 413.5h7m-3.5-3.5v7M501 416.5h7m-3.5-3.5v7M501 410.5h7m-3.5-3.5v7M501 406.5h7m-3.5-3.5v7M501 408.5h7m-3.5-3.5v7M502 410.5h7m-3.5-3.5v7M502 416.5h7m-3.5-3.5v7M502 410.5h7m-3.5-3.5v7M502 411.5h7m-3.5-3.5v7M503 412.5h7m-3.5-3.5v7M503 409.5h7m-3.5-3.5v7M503 410.5h7m-3.5-3.5v7M503 414.5h7m-3.5-3.5v7M503 415.5h7m-3.5-3.5v7M504 412.5h7m-3.5-3.5v7M504 408.5h7m-3.5-3.5v7M504 412.5h7m-3.5-3.5v7M504 414.5h7m-3.5-3.5v7M504 410.5h7m-3.5-3.5v7M505 410.5h7m-3.5-3.5v7M505 413.5h7m-3.5-3.5v7M505 408.5h7m-3.5-3.5v7M505 408.5h7m-3.5-3.5v7M505 408.5h7m-3.5-3.5v7M506 414.5h7m-3.5-3.5v7M506 411.5h7m-3.5-3.5v7M506 409.5h7m-3.5-3.5v7M506 411.5h7m-3.5-3.5v7M507 407.5h7m-3.5-3.5v7M507 411.5h7m-3.5-3.5v7M507 415.5h7m-3.5-3.5v7M507 412.5h7m-3.5-3.5v7M507 412.5h7m-3.5-3.5v7M508 407.5h7m-3.5-3.5v7M508 404.5h7m-3.5-3.5v7M508 409.5h7m-3.5-3.5v7M508 408.5h7m-3.5-3.5v7M508 406.5h7m-3.5-3.5v7M509 408.5h7m-3.5-3.5v7M509 412.5h7m-3.5-3.5v7M509 411.5h7m-3.5-3.5v7M509 414.5h7m-3.5-3.5v7M510 410.5h7m-3.5-3.5v7M510 411.5h7m-3.5-3.5v7M510 409.5h7m-3.5-3.5v7M510 410.5h7m-3.5-3.5v7M510 410.5h7m-3.5-3.5v7M511 410.5h7m-3.5-3.5v7M511 409.5h7m-3.5-3.5v7M511 412.5h7m-3.5-3.5v7M511 410.5h7m-3.5-3.5v7M511 414.5h7m-3.5-3.5v7M512 408.5h7m-3.5-3.5v7M512 409.5h7m-3.5-3.5v7M512 405.5h7m-3.5-3.5v7M512 411.5h7m-3.5-3.5v7M513 411.5h7m-3.5-3.5v7M513 410.5h7m-3.5-3.5v7M513 412.5h7m-3.5-3.5v7M513 412.5h7m-3.5-3.5v7M513 409.5h7m-3.5-3.5v7M514 412.5h7m-3.5-3.5v7M514 410.5h7m-3.5-3.5v7M514 412.5h7m-3.5-3.5v7M514 410.5h7m-3.5-3.5v7M514 408.5h7m-3.5-3.5v7M515 410.5h7m-3.5-3.5v7M515 410.5h7m-3.5-3.5v7M515 414.5h7m-3.5-3.5v7M515 410.5h7m-3.5-3.5v7M515 407.5h7m-3.5-3.5v7M516 410.5h7m-3.5-3.5v7M516 414.5h7m-3.5-3.5v7M516 414.5h7m-3.5-3.5v7M516 411.5h7m-3.5-3.5v7M517 413.5h7m-3.5-3.5v7M517 410.5h7m-3.5-3.5v7M517 410.5h7m-3.5-3.5v7M517 409.5h7m-3.5-3.5v7M517 416.5h7m-3.5-3.5v7M518 411.5h7m-3.5-3.5v7M518 410.5h7m-3.5-3.5v7M518 412.5h7m-3.5-3.5v7M518 410.5h7m-3.5-3.5v7M518 414.5h7m-3.5-3.5v7M519 409.5h7m-3.5-3.5v7M519 410.5h7m-3.5-3.5v7M519 409.5h7m-3.5-3.5v7M519 413.5h7m-3.5-3.5v7M520 411.5h7m-3.5-3.5v7M520 410.5h7m-3.5-3.5v7M520 411.5h7m-3.5-3.5v7M520 411.5h7m-3.5-3.5v7M520 412.5h7m-3.5-3.5v7M521 408.5h7m-3.5-3.5v7M521 406.5h7m-3.5-3.5v7M521 413.5h7m-3.5-3.5v7M521 410.5h7m-3.5-3.5v7M521 412.5h7m-3.5-3.5v7M522 415.5h7m-3.5-3.5v7M522 409.5h7m-3.5-3.5v7M522 418.5h7m-3.5-3.5v7M522 412.5h7m-3.5-3.5v7M523 412.5h7m-3.5-3.5v7M523 411.5h7m-3.5-3.5v7M523 411.5h7m-3.5-3.5v7M523 413.5h7m-3.5-3.5v7M523 408.5h7m-3.5-3.5v7M524 413.5h7m-3.5-3.5v7M524 410.5h7m-3.5-3.5v7M524 410.5h7m-3.5-3.5v7M524 409.5h7m-3.5-3.5v7M524 414.5h7m-3.5-3.5v7M525 415.5h7m-3.5-3.5v7M525 416.5h7m-3.5-3.5v7M525 412.5h7m-3.5-3.5v7M525 411.5h7m-3.5-3.5v7M525 412.5h7m-3.5-3.5v7M526 412.5h7m-3.5-3.5v7M526 413.5h7m-3.5-3.5v7M526 409.5h7m-3.5-3.5v7M526 411.5h7m-3.5-3.5v7M527 412.5h7m-3.5-3.5v7M527 412.5h7m-3.5-3.5v7M527 412.5h7m-3.5-3.5v7M527 412.5h7m-3.5-3.5v7M527 411.5h7m-3.5-3.5v7M528 413.5h7m-3.5-3.5v7M528 412.5h7m-3.5-3.5v7M528 413.5h7m-3.5-3.5v7M528 411.5h7m-3.5-3.5v7M528 409.5h7m-3.5-3.5v7M529 412.5h7m-3.5-3.5v7M529 414.5h7m-3.5-3.5v7M529 410.5h7m-3.5-3.5v7M529 412.5h7m-3.5-3.5v7M530 415.5h7m-3.5-3.5v7M530 418.5h7m-3.5-3.5v7M530 408.5h7m-3.5-3.5v7M530 413.5h7m-3.5-3.5v7M530 409.5h7m-3.5-3.5v7M531 411.5h7m-3.5-3.5v7M531 412.5h7m-3.5-3.5v7M531 408.5h7m-3.5-3.5v7M531 414.5h7m-3.5-3.5v7M531 417.5h7m-3.5-3.5v7M532 414.5h7m-3.5-3.5v7M532 412.5h7m-3.5-3.5v7M532 412.5h7m-3.5-3.5v7M532 412.5h7m-3.5-3.5v7M533 416.5h7m-3.5-3.5v7M533 414.5h7m-3.5-3.5v7M533 415.5h7m-3.5-3.5v7M533 414.5h7m-3.5-3.5v7M533 414.5h7m-3.5-3.5v7M534 414.5h7m-3.5-3.5v7M534 411.5h7m-3.5-3.5v7M534 412.5h7m-3.5-3.5v7M534 413.5h7m-3.5-3.5v7M534 412.5h7m-3.5-3.5v7M535 414.5h7m-3.5-3.5v7M535 415.5h7m-3.5-3.5v7M535 413.5h7m-3.5-3.5v7M535 416.5h7m-3.5-3.5v7M535 412.5h7m-3.5-3.5v7M536 413.5h7m-3.5-3.5v7M536 411.5h7m-3.5-3.5v7M536 411.5h7m-3.5-3.5v7M536 408.5h7m-3.5-3.5v7M537 414.5h7m-3.5-3.5v7M537 414.5h7m-3.5-3.5v7M537 412.5h7m-3.5-3.5v7M537 412.5h7m-3.5-3.5v7M537 411.5h7m-3.5-3.5v7M538 412.5h7m-3.5-3.5v7M538 413.5h7m-3.5-3.5v7M538 414.5h7m-3.5-3.5v7M538 410.5h7m-3.5-3.5v7M538 414.5h7m-3.5-3.5v7M539 410.5h7m-3.5-3.5v7M539 413.5h7m-3.5-3.5v7M539 414.5h7m-3.5-3.5v7M539 413.5h7m-3.5-3.5v7M540 416.5h7m-3.5-3.5v7M540 413.5h7m-3.5-3.5v7M540 412.5h7m-3.5-3.5v7M540 416.5h7m-3.5-3.5v7M540 412.5h7m-3.5-3.5v7M541 416.5h7m-3.5-3.5v7M541 414.5h7m-3.5-3.5v7M541 415.5h7m-3.5-3.5v7M541 414.5h7m-3.5-3.5v7M541 410.5h7m-3.5-3.5v7M542 418.5h7m-3.5-3.5v7M542 414.5h7m-3.5-3.5v7M542 414.5h7m-3.5-3.5v7M542 410.5h7m-3.5-3.5v7M543 414.5h7m-3.5-3.5v7M543 416.5h7m-3.5-3.5v7M543 415.5h7m-3.5-3.5v7M543 411.5h7m-3.5-3.5v7M543 416.5h7m-3.5-3.5v7M544 413.5h7m-3.5-3.5v7M544 410.5h7m-3.5-3.5v7M544 416.5h7m-3.5-3.5v7M544 413.5h7m-3.5-3.5v7M544 415.5h7m-3.5-3.5v7M545 415.5h7m-3.5-3.5v7M545 414.5h7m-3.5-3.5v7M545 412.5h7m-3.5-3.5v7M545 413.5h7m-3.5-3.5v7M545 414.5h7m-3.5-3.5v7M546 417.5h7m-3.5-3.5v7M546 412.5h7m-3.5-3.5v7M546 412.5h7m-3.5-3.5v7M546 413.5h7m-3.5-3.5v7M547 412.5h7m-3.5-3.5v7M547 415.5h7m-3.5-3.5v7M547 411.5h7m-3.5-3.5v7M547 412.5h7m-3.5-3.5v7M547 415.5h7m-3.5-3.5v7M548 415.5h7m-3.5-3.5v7M548 410.5h7m-3.5-3.5v7M548 412.5h7m-3.5-3.5v7M548 416.5h7m-3.5-3.5v7M548 413.5h7m-3.5-3.5v7M549 412.5h7m-3.5-3.5v7M549 411.5h7m-3.5-3.5v7M549 414.5h7m-3.5-3.5v7M549 415.5h7m-3.5-3.5v7M550 413.5h7m-3.5-3.5v7M550 414.5h7m-3.5-3.5v7M550 415.5h7m-3.5-3.5v7M550 416.5h7m-3.5-3.5v7M550 416.5h7m-3.5-3.5v7M551 415.5h7m-3.5-3.5v7M551 412.5h7m-3.5-3.5v7M551 413.5h7m-3.5-3.5v7M551 415.5h7m-3.5-3.5v7M551 416.5h7m-3.5-3.5v7M552 415.5h7m-3.5-3.5v7M552 412.5h7m-3.5-3.5v7M552 415.5h7m-3.5-3.5v7M552 415.5h7m-3.5-3.5v7M553 411.5h7m-3.5-3.5v7M553 416.5h7m-3.5-3.5v7M553 417.5h7m-3.5-3.5v7M553 413.5h7m-3.5-3.5v7M553 412.5h7m-3.5-3.5v7M554 416.5h7m-3.5-3.5v7M554 414.5h7m-3.5-3.5v7M554 416.5h7m-3.5-3.5v7M554 414.5h7m-3.5-3.5v7M554 414.5h7m-3.5-3.5v7M555 413.5h7m-3.5-3.5v7M555 417.5h7m-3.5-3.5v7M555 413.5h7m-3.5-3.5v7M555 414.5h7m-3.5-3.5v7M555 415.5h7m-3.5-3.5v7M556 414.5h7m-3.5-3.5v7M556 416.5h7m-3.5-3.5v7M556 416.5h7m-3.5-3.5v7M556 414.5h7m-3.5-3.5v7M557 416.5h7m-3.5-3.5v7M557 416.5h7m-3.5-3.5v7M557 418.5h7m-3.5-3.5v7M557 414.5h7m-3.5-3.5v7M557 417.5h7m-3.5-3.5v7M558 414.5h7m-3.5-3.5v7M558 414.5h7m-3.5-3.5v7M558 416.5h7m-3.5-3.5v7M558 414.5h7m-3.5-3.5v7M558 413.5h7m-3.5-3.5v7M559 413.5h7m-3.5-3.5v7M559 413.5h7m-3.5-3.5v7M559 414.5h7m-3.5-3.5v7M559 415.5h7m-3.5-3.5v7M560 415.5h7m-3.5-3.5v7M560 416.5h7m-3.5-3.5v7M560 416.5h7m-3.5-3.5v7M560 414.5h7m-3.5-3.5v7M560 416.5h7m-3.5-3.5v7M561 416.5h7m-3.5-3.5v7M561 416.5h7m-3.5-3.5v7M561 415.5h7m-3.5-3.5v7M561 417.5h7m-3.5-3.5v7M561 415.5h7m-3.5-3.5v7M562 415.5h7m-3.5-3.5v7M562 416.5h7m-3.5-3.5v7M562 414.5h7m-3.5-3.5v7M562 416.5h7m-3.5-3.5v7M563 418.5h7m-3.5-3.5v7M563 418.5h7m-3.5-3.5v7M563 417.5h7m-3.5-3.5v7M563 417.5h7m-3.5-3.5v7M563 417.5h7m-3.5-3.5v7M564 416.5h7m-3.5-3.5v7M564 418.5h7m-3.5-3.5v7M564 417.5h7m-3.5-3.5v7M564 415.5h7m-3.5-3.5v7M564 414.5h7m-3.5-3.5v7M565 415.5h7m-3.5-3.5v7M565 417.5h7m-3.5-3.5v7M565 416.5h7m-3.5-3.5v7M565 414.5h7m-3.5-3.5v7M565 416.5h7m-3.5-3.5v7M566 414.5h7m-3.5-3.5v7M566 418.5h7m-3.5-3.5v7M566 417.5h7m-3.5-3.5v7M566 416.5h7m-3.5-3.5v7M567 417.5h7m-3.5-3.5v7M567 418.5h7m-3.5-3.5v7M567 416.5h7m-3.5-3.5v7M567 417.5h7m-3.5-3.5v7M567 416.5h7m-3.5-3.5v7M568 416.5h7m-3.5-3.5v7M568 418.5h7m-3.5-3.5v7M568 415.5h7m-3.5-3.5v7M568 416.5h7m-3.5-3.5v7M568 416.5h7m-3.5-3.5v7M569 415.5h7m-3.5-3.5v7M569 415.5h7m-3.5-3.5v7M569 417.5h7m-3.5-3.5v7M569 416.5h7m-3.5-3.5v7M570 416.5h7m-3.5-3.5v7M570 418.5h7m-3.5-3.5v7M570 416.5h7m-3.5-3.5v7M570 417.5h7m-3.5-3.5v7M570 416.5h7m-3.5-3.5v7M571 416.5h7m-3.5-3.5v7M571 416.5h7m-3.5-3.5v7M571 416.5h7m-3.5-3.5v7M571 418.5h7m-3.5-3.5v7M571 415.5h7m-3.5-3.5v7M572 416.5h7m-3.5-3.5v7M572 415.5h7m-3.5-3.5v7M572 414.5h7m-3.5-3.5v7M572 416.5h7m-3.5-3.5v7M573 415.5h7m-3.5-3.5v7M573 418.5h7m-3.5-3.5v7M573 416.5h7m-3.5-3.5v7M573 417.5h7m-3.5-3.5v7M573 415.5h7m-3.5-3.5v7M574 418.5h7m-3.5-3.5v7M574 416.5h7m-3.5-3.5v7M574 416.5h7m-3.5-3.5v7M574 416.5h7m-3.5-3.5v7M574 417.5h7m-3.5-3.5v7M575 417.5h7m-3.5-3.5v7M575 417.5h7m-3.5-3.5v7M575 416.5h7m-3.5-3.5v7M575 418.5h7m-3.5-3.5v7M575 418.5h7m-3.5-3.5v7M576 417.5h7m-3.5-3.5v7M576 414.5h7m-3.5-3.5v7M576 418.5h7m-3.5-3.5v7M576 415.5h7m-3.5-3.5v7M577 416.5h7m-3.5-3.5v7M577 414.5h7m-3.5-3.5v7M577 416.5h7m-3.5-3.5v7M577 417.5h7m-3.5-3.5v7M577 416.5h7m-3.5-3.5v7M578 418.5h7m-3.5-3.5v7M578 418.5h7m-3.5-3.5v7M578 417.5h7m-3.5-3.5v7M578 417.5h7m-3.5-3.5v7M578 418.5h7m-3.5-3.5v7M579 415.5h7m-3.5-3.5v7M579 416.5h7m-3.5-3.5v7M579 414.5h7m-3.5-3.5v7M579 414.5h7m-3.5-3.5v7M580 416.5h7m-3.5-3.5v7M580 416.5h7m-3.5-3.5v7M580 413.5h7m-3.5-3.5v7M580 414.5h7m-3.5-3.5v7M580 416.5h7m-3.5-3.5v7M581 414.5h7m-3.5-3.5v7M581 416.5h7m-3.5-3.5v7M581 414.5h7m-3.5-3.5v7M581 417.5h7m-3.5-3.5v7M581 418.5h7m-3.5-3.5v7M582 416.5h7m-3.5-3.5v7M582 417.5h7m-3.5-3.5v7M582 418.5h7m-3.5-3.5v7M582 418.5h7m-3.5-3.5v7M583 414.5h7m-3.5-3.5v7M583 416.5h7m-3.5-3.5v7M583 414.5h7m-3.5-3.5v7M583 417.5h7m-3.5-3.5v7M583 415.5h7m-3.5-3.5v7M584 414.5h7m-3.5-3.5v7M584 414.5h7m-3.5-3.5v7M584 416.5h7m-3.5-3.5v7M584 417.5h7m-3.5-3.5v7M584 415.5h7m-3.5-3.5v7M585 413.5h7m-3.5-3.5v7M585 416.5h7m-3.5-3.5v7M585 417.5h7m-3.5-3.5v7M585 416.5h7m-3.5-3.5v7M585 416.5h7m-3.5-3.5v7M586 417.5h7m-3.5-3.5v7M586 414.5h7m-3.5-3.5v7M586 416.5h7m-3.5-3.5v7M586 414.5h7m-3.5-3.5v7M587 416.5h7m-3.5-3.5v7M587 416.5h7m-3.5-3.5v7M587 415.5h7m-3.5-3.5v7M587 417.5h7m-3.5-3.5v7M587 415.5h7m-3.5-3.5v7M588 412.5h7m-3.5-3.5v7M588 417.5h7m-3.5-3.5v7M588 414.5h7m-3.5-3.5v7M588 416.5h7m-3.5-3.5v7M588 414.5h7m-3.5-3.5v7M589 417.5h7m-3.5-3.5v7M589 418.5h7m-3.5-3.5v7M589 416.5h7m-3.5-3.5v7M589 416.5h7m-3.5-3.5v7M590 418.5h7m-3.5-3.5v7M590 414.5h7m-3.5-3.5v7M590 416.5h7m-3.5-3.5v7M590 418.5h7m-3.5-3.5v7M590 417.5h7m-3.5-3.5v7M591 416.5h7m-3.5-3.5v7M591 414.5h7m-3.5-3.5v7M591 415.5h7m-3.5-3.5v7M591 416.5h7m-3.5-3.5v7M591 412.5h7m-3.5-3.5v7M592 414.5h7m-3.5-3.5v7M592 416.5h7m-3.5-3.5v7M592 412.5h7m-3.5-3.5v7M592 414.5h7m-3.5-3.5v7M593 415.5h7m-3.5-3.5v7M593 414.5h7m-3.5-3.5v7M593 413.5h7m-3.5-3.5v7M593 416.5h7m-3.5-3.5v7M593 417.5h7m-3.5-3.5v7M594 417.5h7m-3.5-3.5v7M594 415.5h7m-3.5-3.5v7M594 414.5h7m-3.5-3.5v7M594 412.5h7m-3.5-3.5v7M594 416.5h7m-3.5-3.5v7M595 416.5h7m-3.5-3.5v7M595 416.5h7m-3.5-3.5v7M595 416.5h7m-3.5-3.5v7M595 418.5h7m-3.5-3.5v7M595 418.5h7m-3.5-3.5v7M596 416.5h7m-3.5-3.5v7M596 418.5h7m-3.5-3.5v7M596 417.5h7m-3.5-3.5v7M596 416.5h7m-3.5-3.5v7M597 413.5h7m-3.5-3.5v7M597 416.5h7m-3.5-3.5v7M597 416.5h7m-3.5-3.5v7M597 415.5h7m-3.5-3.5v7M597 414.5h7m-3.5-3.5v7M598 418.5h7m-3.5-3.5v7M598 416.5h7m-3.5-3.5v7M598 416.5h7m-3.5-3.5v7M598 416.5h7m-3.5-3.5v7M598 415.5h7m-3.5-3.5v7M599 418.5h7m-3.5-3.5v7M599 415.5h7m-3.5-3.5v7M599 414.5h7m-3.5-3.5v7M599 414.5h7m-3.5-3.5v7M600 413.5h7m-3.5-3.5v7M600 416.5h7m-3.5-3.5v7M600 413.5h7m-3.5-3.5v7M600 414.5h7m-3.5-3.5v7M600 414.5h7m-3.5-3.5v7M601 415.5h7m-3.5-3.5v7M601 416.5h7m-3.5-3.5v7M601 415.5h7m-3.5-3.5v7M601 413.5h7m-3.5-3.5v7M601 415.5h7m-3.5-3.5v7M602 418.5h7m-3.5-3.5v7M602 417.5h7m-3.5-3.5v7M602 416.5h7m-3.5-3.5v7M602 414.5h7m-3.5-3.5v7M603 417.5h7m-3.5-3.5v7M603 412.5h7m-3.5-3.5v7M603 417.5h7m-3.5-3.5v7M603 417.5h7m-3.5-3.5v7M603 415.5h7m-3.5-3.5v7M604 414.5h7m-3.5-3.5v7" stroke="#f00" stroke-width="1" fill="none" shape-rendering="crispEdges"/>
<g stroke="#000" stroke-width="1" shape-rendering="crispEdges" fill="none">
<rect x="90.5" y="22.5" width="516" height="397"/>
<path d="M90.5 419v-4M90.5 23v4M147.5 419v-4M147.5 23v4M205.5 419v-4M205.5 23v4M262.5 419v-4M262.5 23v4M319.5 419v-4M319.5 23v4M377.5 419v-4M377.5 23v4M434.5 419v-4M434.5 23v4M491.5 419v-4M491.5 23v4M549.5 419v-4M549.5 23v4M606.5 419v-4M606.5 23v4M91 419.5h4M606 419.5h-4M91 353.5h4M606 353.5h-4M91 287.5h4M606 287.5h-4M91 220.5h4M606 220.5h-4M91 154.5h4M606 154.5h-4M91 88.5h4M606 88.5h-4M91 22.5h4M606 22.5h-4"/>
</g>
</svg>
</body>
</html>
